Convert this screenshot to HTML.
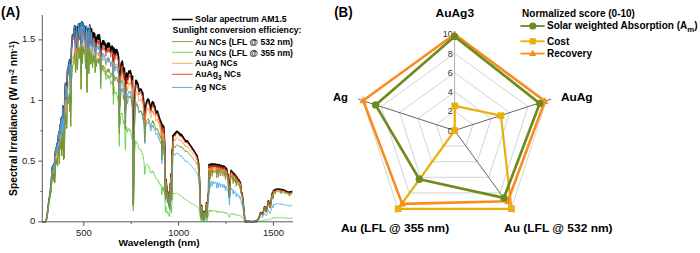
<!DOCTYPE html>
<html><head><meta charset="utf-8"><style>
html,body{margin:0;padding:0;background:#fff;width:700px;height:253px;overflow:hidden;}
svg{display:block;font-family:"Liberation Sans",sans-serif;}
</style></head><body>
<svg width="700" height="253" viewBox="0 0 700 253" font-family="Liberation Sans, sans-serif">
<rect width="700" height="253" fill="#fff"/>
<g><polyline points="42.09,221.80 42.28,221.80 42.47,221.80 42.66,221.80 42.85,221.80 43.04,221.80 43.23,221.80 43.42,221.80 43.60,221.80 43.79,221.80 43.98,221.80 44.17,221.80 44.36,221.80 44.55,221.80 44.74,221.80 44.93,221.80 45.12,221.80 45.31,221.80 45.50,221.80 45.69,221.32 45.88,220.83 46.07,220.35 46.26,219.86 46.45,219.37 46.64,218.16 46.83,216.96 47.02,215.75 47.21,214.55 47.40,213.33 47.59,211.71 47.78,210.10 47.97,208.47 48.16,206.84 48.34,205.24 48.53,203.66 48.72,202.10 48.91,201.19 49.10,199.06 49.29,197.95 49.48,197.40 49.67,196.02 49.86,193.53 50.05,191.79 50.24,192.29 50.43,191.43 50.62,188.06 50.81,186.29 51.00,187.23 51.19,184.68 51.38,179.98 51.57,176.74 51.76,176.21 51.95,174.96 52.14,168.72 52.33,166.91 52.52,166.50 52.71,166.28 52.90,167.55 53.08,170.00 53.27,168.19 53.46,164.99 53.65,167.37 53.84,173.34 54.03,171.70 54.22,164.97 54.41,162.79 54.60,167.42 54.79,174.86 54.98,168.02 55.17,154.96 55.36,151.64 55.55,150.32 55.74,149.27 55.93,151.67 56.12,152.58 56.31,147.75 56.50,146.79 56.69,149.15 56.88,146.72 57.07,143.81 57.26,143.15 57.45,150.84 57.64,153.08 57.82,140.10 58.01,138.64 58.20,136.87 58.39,135.15 58.58,137.78 58.77,137.69 58.96,131.88 59.15,137.32 59.34,149.64 59.53,144.93 59.72,130.14 59.91,126.27 60.10,124.71 60.29,124.67 60.48,129.86 60.67,130.06 60.86,121.39 61.05,118.29 61.24,118.56 61.43,121.74 61.62,134.75 61.81,138.38 62.00,126.19 62.19,116.52 62.38,130.37 62.56,129.69 62.75,106.35 62.94,106.14 63.13,114.00 63.32,132.68 63.51,142.96 63.70,134.45 63.89,118.23 64.08,133.21 64.27,140.75 64.46,128.98 64.65,108.09 64.84,93.29 65.03,90.31 65.22,85.79 65.41,83.20 65.60,83.33 65.79,90.24 65.98,97.37 66.17,89.93 66.36,86.15 66.55,97.30 66.74,103.00 66.93,95.55 67.12,82.29 67.30,73.37 67.49,69.95 67.68,70.97 67.87,72.88 68.06,72.05 68.25,68.53 68.44,65.88 68.63,64.78 68.82,63.67 69.01,62.56 69.20,61.84 69.39,60.53 69.58,59.86 69.77,76.25 69.96,83.66 70.15,64.06 70.34,72.88 70.53,92.59 70.72,102.93 70.91,90.73 71.10,72.69 71.29,54.20 71.48,48.09 71.67,46.15 71.86,43.53 72.04,40.72 72.23,37.95 72.42,35.40 72.61,34.48 72.80,34.73 72.99,35.01 73.18,35.32 73.37,35.67 73.56,36.05 73.75,34.16 73.94,32.23 74.13,30.31 74.32,28.39 74.51,26.47 74.70,25.84 74.89,30.59 75.08,35.35 75.27,40.10 75.46,44.85 75.65,49.60 75.84,44.66 76.03,39.21 76.22,33.75 76.41,28.28 76.60,26.68 76.78,32.85 76.97,39.03 77.16,45.21 77.35,48.10 77.54,43.68 77.73,39.26 77.92,34.84 78.11,30.41 78.30,25.97 78.49,24.07 78.68,26.55 78.87,29.02 79.06,31.49 79.25,33.96 79.44,36.43 79.63,32.82 79.82,28.43 80.01,24.03 80.20,23.46 80.39,26.34 80.58,29.23 80.77,32.12 80.96,53.30 81.15,71.19 81.34,53.06 81.52,29.20 81.71,21.82 81.90,27.96 82.09,34.10 82.28,40.25 82.47,41.62 82.66,32.83 82.85,25.36 83.04,23.02 83.23,25.21 83.42,26.51 83.61,28.79 83.80,31.08 83.99,30.34 84.18,28.15 84.37,25.96 84.56,27.62 84.75,27.29 84.94,31.34 85.13,35.38 85.32,39.43 85.51,43.47 85.70,47.50 85.89,44.47 86.08,37.29 86.26,30.13 86.45,26.28 86.64,33.47 86.83,56.96 87.02,74.82 87.21,57.53 87.40,36.06 87.59,33.14 87.78,30.21 87.97,28.95 88.16,28.89 88.35,29.68 88.54,32.03 88.73,43.05 88.92,53.40 89.11,42.41 89.30,35.73 89.49,29.95 89.68,25.12 89.87,26.37 90.06,29.19 90.25,32.59 90.44,35.99 90.63,39.36 90.82,42.73 91.00,41.77 91.19,37.05 91.38,32.36 91.57,28.85 91.76,31.76 91.95,35.62 92.14,39.46 92.33,43.00 92.52,46.53 92.71,43.71 92.90,39.47 93.09,35.24 93.28,34.95 93.47,32.66 93.66,35.36 93.85,38.06 94.04,40.38 94.23,38.11 94.42,35.85 94.61,33.60 94.80,36.08 94.99,44.12 95.18,52.14 95.37,51.04 95.56,46.56 95.74,42.10 95.93,37.65 96.12,45.12 96.31,43.42 96.50,41.84 96.69,40.40 96.88,39.12 97.07,37.82 97.26,36.72 97.45,35.82 97.64,35.12 97.83,35.14 98.02,35.55 98.21,38.74 98.40,36.01 98.59,39.22 98.78,36.76 98.97,34.61 99.16,35.60 99.35,35.00 99.54,35.66 99.73,38.75 99.92,38.72 100.11,41.11 100.30,43.65 100.48,56.30 100.67,67.14 100.86,57.35 101.05,49.20 101.24,47.72 101.43,46.33 101.62,45.10 101.81,44.01 102.00,43.05 102.19,42.39 102.38,44.64 102.57,43.57 102.76,40.92 102.95,41.44 103.14,41.04 103.33,40.96 103.52,41.20 103.71,40.78 103.90,44.70 104.09,43.80 104.28,44.06 104.47,43.14 104.66,42.46 104.85,43.28 105.04,44.26 105.22,45.38 105.41,46.64 105.60,48.02 105.79,49.51 105.98,51.09 106.17,48.32 106.36,47.30 106.55,46.37 106.74,45.52 106.93,44.79 107.12,44.11 107.31,43.56 107.50,43.47 107.69,45.64 107.88,47.56 108.07,44.79 108.26,42.85 108.45,43.16 108.64,45.62 108.83,46.53 109.02,44.67 109.21,43.39 109.40,43.86 109.59,45.25 109.78,46.57 109.96,46.17 110.15,47.27 110.34,48.47 110.53,49.75 110.72,52.06 110.91,50.76 111.10,49.57 111.29,48.52 111.48,47.62 111.67,48.14 111.86,47.52 112.05,45.96 112.24,46.15 112.43,47.41 112.62,48.50 112.81,47.47 113.00,50.45 113.19,62.97 113.38,72.49 113.57,63.11 113.76,50.74 113.95,48.08 114.14,48.97 114.33,50.04 114.52,51.26 114.70,52.62 114.89,54.10 115.08,54.56 115.27,53.12 115.46,51.80 115.65,50.63 115.84,49.64 116.03,50.87 116.22,49.77 116.41,49.65 116.60,49.56 116.79,50.63 116.98,49.88 117.17,53.64 117.36,53.39 117.55,51.84 117.74,51.91 117.93,55.15 118.12,54.07 118.31,55.44 118.50,56.98 118.69,58.67 118.88,76.84 119.07,101.26 119.26,115.66 119.44,105.60 119.63,86.91 119.82,74.97 120.01,71.01 120.20,82.44 120.39,78.10 120.58,73.97 120.77,70.14 120.96,66.69 121.15,63.67 121.34,64.42 121.53,62.40 121.72,63.23 121.91,62.15 122.10,61.80 122.29,61.08 122.48,62.13 122.67,63.82 122.86,65.97 123.05,68.55 123.24,71.51 123.43,74.76 123.62,71.51 123.81,70.19 124.00,69.04 124.18,68.08 124.37,68.64 124.56,71.93 124.75,81.70 124.94,94.07 125.13,105.41 125.32,110.99 125.51,108.80 125.70,98.72 125.89,87.79 126.08,79.49 126.27,74.52 126.46,72.98 126.65,72.95 126.84,74.05 127.03,75.35 127.22,76.82 127.41,78.44 127.60,79.68 127.79,77.79 127.98,76.04 128.17,74.57 128.36,73.31 128.55,72.45 128.74,71.40 128.92,71.05 129.11,72.01 129.30,72.33 129.49,73.14 129.68,72.79 129.87,71.94 130.06,72.56 130.25,70.46 130.44,72.54 130.63,71.77 130.82,72.84 131.01,74.11 131.20,75.60 131.39,77.27 131.58,79.12 131.77,81.11 131.96,83.21 132.15,83.57 132.34,82.19 132.53,76.16 132.72,111.30 132.91,149.14 133.10,176.45 133.29,203.72 133.48,189.53 133.66,175.83 133.85,161.41 134.04,145.44 134.23,128.60 134.42,112.67 134.61,101.92 134.80,98.20 134.99,94.52 135.18,90.89 135.37,87.34 135.56,84.91 135.75,80.58 135.94,80.29 136.13,80.74 136.32,81.04 136.51,81.47 136.70,80.91 136.89,81.39 137.08,82.17 137.27,84.18 137.46,82.85 137.65,82.90 137.84,83.71 138.03,84.67 138.22,85.78 138.40,87.04 138.59,88.43 138.78,89.95 138.97,91.56 139.16,91.13 139.35,90.67 139.54,90.25 139.73,89.88 139.92,89.56 140.11,89.29 140.30,89.09 140.49,89.16 140.68,89.94 140.87,90.30 141.06,90.03 141.25,89.20 141.44,89.77 141.63,90.99 141.82,91.99 142.01,91.72 142.20,92.01 142.39,94.13 142.58,92.28 142.77,92.88 142.96,94.68 143.14,99.26 143.33,97.94 143.52,99.79 143.71,101.68 143.90,102.66 144.09,105.77 144.28,111.11 144.47,118.17 144.66,124.70 144.85,126.84 145.04,123.99 145.23,117.57 145.42,110.63 145.61,107.43 145.80,106.03 145.99,104.70 146.18,103.72 146.37,102.83 146.56,102.03 146.75,101.82 146.94,100.72 147.13,100.43 147.32,100.30 147.51,100.39 147.70,99.65 147.88,99.15 148.07,99.18 148.26,99.13 148.45,99.24 148.64,101.51 148.83,100.10 149.02,100.72 149.21,101.72 149.40,102.22 149.59,103.12 149.78,104.10 149.97,105.18 150.16,106.35 150.35,107.11 150.54,107.96 150.73,108.86 150.92,109.83 151.11,108.24 151.30,107.01 151.49,105.86 151.68,104.79 151.87,103.83 152.06,102.98 152.25,102.35 152.44,101.63 152.62,103.83 152.81,101.84 153.00,103.07 153.19,102.36 153.38,105.03 153.57,102.79 153.76,103.54 153.95,105.70 154.14,106.25 154.33,106.49 154.52,106.22 154.71,105.83 154.90,106.76 155.09,107.80 155.28,108.94 155.47,110.17 155.66,111.65 155.85,113.18 156.04,111.69 156.23,111.49 156.42,111.33 156.61,111.21 156.80,111.14 156.99,111.11 157.18,111.15 157.36,112.41 157.55,112.37 157.74,111.64 157.93,113.70 158.12,114.90 158.31,114.12 158.50,113.98 158.69,116.90 158.88,117.60 159.07,116.24 159.26,116.96 159.45,119.60 159.64,119.32 159.83,118.86 160.02,120.34 160.21,120.18 160.40,122.60 160.59,120.74 160.78,121.54 160.97,121.77 161.16,122.26 161.35,122.39 161.54,131.16 161.73,139.76 161.92,147.98 162.10,140.11 162.29,132.42 162.48,124.55 162.67,124.76 162.86,131.00 163.05,137.02 163.24,131.69 163.43,126.04 163.62,126.55 163.81,126.82 164.00,130.59 164.19,134.19 164.38,138.04 164.57,141.76 164.76,145.40 164.95,149.03 165.14,168.91 165.33,188.79 165.52,194.81 165.71,186.96 165.90,179.11 166.09,180.80 166.28,182.50 166.47,184.26 166.66,186.09 166.84,187.91 167.03,192.51 167.22,197.10 167.41,197.86 167.60,194.78 167.79,191.70 167.98,193.88 168.17,196.07 168.36,198.34 168.55,200.70 168.74,203.06 168.93,201.25 169.12,199.44 169.31,200.09 169.50,203.21 169.69,206.33 169.88,196.89 170.07,187.45 170.26,183.55 170.45,185.18 170.64,186.81 170.83,180.34 171.02,173.88 171.21,175.53 171.40,185.29 171.58,195.05 171.77,176.74 171.96,158.42 172.15,149.26 172.34,151.87 172.53,154.29 172.72,145.35 172.91,135.64 173.10,135.74 173.29,135.69 173.48,135.15 173.67,134.61 173.86,134.54 174.05,134.45 174.24,134.36 174.43,134.13 174.62,133.57 174.81,133.44 175.00,134.60 175.19,134.14 175.38,132.87 175.57,132.68 175.76,133.04 175.95,133.06 176.14,132.26 176.32,131.54 176.51,131.49 176.70,131.34 176.89,131.42 177.08,131.70 177.27,131.43 177.46,131.48 177.65,131.61 177.84,131.82 178.03,132.08 178.22,132.50 178.41,132.40 178.60,132.40 178.79,132.83 178.98,133.04 179.17,133.58 179.36,134.15 179.55,133.88 179.74,133.69 179.93,133.89 180.12,134.40 180.31,135.06 180.50,134.53 180.69,134.17 180.88,134.42 181.06,135.15 181.25,135.33 181.44,134.65 181.63,134.65 181.82,135.01 182.01,135.54 182.20,135.77 182.39,135.80 182.58,136.24 182.77,137.44 182.96,137.53 183.15,137.03 183.34,137.15 183.53,137.71 183.72,138.34 183.91,138.56 184.10,138.50 184.29,138.86 184.48,139.63 184.67,140.01 184.86,139.81 185.05,139.67 185.24,140.80 185.43,141.24 185.62,140.64 185.80,140.81 185.99,140.89 186.18,141.37 186.37,141.05 186.56,140.72 186.75,141.06 186.94,141.52 187.13,140.90 187.32,140.88 187.51,141.20 187.70,141.59 187.89,142.04 188.08,142.17 188.27,142.45 188.46,142.53 188.65,142.94 188.84,143.53 189.03,143.74 189.22,143.67 189.41,143.98 189.60,144.35 189.79,144.63 189.98,145.12 190.17,145.10 190.36,145.19 190.54,145.72 190.73,145.90 190.92,146.14 191.11,146.58 191.30,146.78 191.49,146.89 191.68,147.15 191.87,147.60 192.06,147.83 192.25,148.69 192.44,148.93 192.63,148.65 192.82,148.94 193.01,149.20 193.20,149.61 193.39,150.10 193.58,150.14 193.77,150.52 193.96,150.57 194.15,151.05 194.34,151.30 194.53,151.74 194.72,151.94 194.91,152.27 195.10,152.38 195.28,152.75 195.47,153.24 195.66,153.49 195.85,153.64 196.04,154.10 196.23,154.26 196.42,155.10 196.61,155.78 196.80,155.44 196.99,155.50 197.18,155.88 197.37,157.21 197.56,157.91 197.75,158.98 197.94,160.24 198.13,161.29 198.32,162.40 198.51,163.52 198.70,164.48 198.89,167.97 199.08,171.48 199.27,174.97 199.46,178.55 199.65,181.97 199.84,185.46 200.02,192.72 200.21,199.99 200.40,206.34 200.59,211.78 200.78,217.23 200.97,216.58 201.16,215.94 201.35,213.59 201.54,209.51 201.73,205.44 201.92,211.18 202.11,216.93 202.30,218.81 202.49,216.81 202.68,214.81 202.87,216.22 203.06,217.64 203.25,217.05 203.44,214.46 203.63,211.87 203.82,215.28 204.01,218.70 204.20,219.78 204.39,218.53 204.58,217.28 204.76,214.76 204.95,212.24 205.14,211.05 205.33,211.17 205.52,211.30 205.71,210.52 205.90,209.74 206.09,208.04 206.28,205.41 206.47,202.79 206.66,209.95 206.85,217.12 207.04,217.27 207.23,210.41 207.42,203.55 207.61,201.76 207.80,199.98 207.99,197.87 208.18,195.43 208.37,193.00 208.56,193.00 208.75,178.86 208.94,164.63 209.13,168.41 209.32,166.47 209.50,164.53 209.69,165.13 209.88,168.07 210.07,171.02 210.26,173.50 210.45,170.43 210.64,167.37 210.83,164.29 211.02,163.97 211.21,163.78 211.40,163.79 211.59,164.44 211.78,166.99 211.97,169.54 212.16,170.61 212.35,168.10 212.54,165.59 212.73,163.91 212.92,164.13 213.11,165.42 213.30,166.71 213.49,166.67 213.68,165.42 213.87,164.17 214.06,164.19 214.24,164.02 214.43,164.71 214.62,165.67 214.81,166.15 215.00,165.23 215.19,164.30 215.38,164.16 215.57,164.15 215.76,164.35 215.95,164.40 216.14,164.25 216.33,166.45 216.52,169.52 216.71,172.59 216.90,170.68 217.09,167.65 217.28,164.62 217.47,164.38 217.66,164.51 217.85,164.48 218.04,166.05 218.23,168.83 218.42,171.61 218.61,169.93 218.80,167.23 218.98,164.73 219.17,164.70 219.36,164.75 219.55,165.02 219.74,164.99 219.93,166.31 220.12,168.28 220.31,170.24 220.50,168.63 220.69,166.78 220.88,165.45 221.07,165.33 221.26,165.39 221.45,165.51 221.64,165.67 221.83,166.95 222.02,168.59 222.21,170.22 222.40,169.72 222.59,168.21 222.78,166.70 222.97,166.08 223.16,166.03 223.35,166.15 223.54,166.32 223.72,166.29 223.91,168.79 224.10,171.01 224.29,168.37 224.48,166.43 224.67,166.54 224.86,166.55 225.05,168.40 225.24,171.46 225.43,174.51 225.62,173.40 225.81,170.72 226.00,168.08 226.19,168.20 226.38,168.53 226.57,168.75 226.76,169.07 226.95,169.86 227.14,172.22 227.33,174.56 227.52,174.20 227.71,174.03 227.90,174.15 228.09,176.12 228.28,178.09 228.46,182.27 228.65,186.43 228.84,185.99 229.03,187.48 229.22,192.80 229.41,195.82 229.60,193.91 229.79,187.27 229.98,182.75 230.17,181.80 230.36,178.21 230.55,174.42 230.74,172.45 230.93,171.42 231.12,170.28 231.31,170.66 231.50,170.81 231.69,171.98 231.88,172.65 232.07,171.90 232.26,171.62 232.45,171.76 232.64,172.39 232.83,175.37 233.02,178.31 233.20,179.38 233.39,176.83 233.58,174.31 233.77,173.23 233.96,173.41 234.15,174.38 234.34,176.62 234.53,176.95 234.72,175.13 234.91,174.55 235.10,174.76 235.29,174.93 235.48,175.22 235.67,175.42 235.86,176.10 236.05,179.25 236.24,182.38 236.43,181.78 236.62,179.17 236.81,177.02 237.00,177.39 237.19,177.57 237.38,177.86 237.57,178.19 237.76,178.42 237.94,179.05 238.13,180.84 238.32,181.59 238.51,180.33 238.70,179.69 238.89,180.06 239.08,180.17 239.27,180.46 239.46,181.19 239.65,183.01 239.84,184.71 240.03,183.41 240.22,182.13 240.41,183.00 240.60,184.32 240.79,185.53 240.98,186.70 241.17,189.47 241.36,192.45 241.55,193.07 241.74,192.48 241.93,192.79 242.12,193.94 242.31,195.17 242.50,196.34 242.68,197.59 242.87,199.59 243.06,201.57 243.25,203.51 243.44,205.54 243.63,207.51 243.82,209.47 244.01,211.45 244.20,213.45 244.39,215.41 244.58,217.40 244.77,219.38 244.96,221.69 245.15,221.67 245.34,221.08 245.53,221.23 245.72,221.52 245.91,221.78 246.10,221.34 246.29,221.69 246.48,221.24 246.67,221.51 246.86,221.24 247.05,221.70 247.24,221.45 247.42,221.71 247.61,221.34 247.80,221.46 247.99,221.64 248.18,221.32 248.37,221.45 248.56,221.61 248.75,221.41 248.94,221.61 249.13,221.41 249.32,221.65 249.51,221.43 249.70,221.76 249.89,221.53 250.08,221.68 250.27,221.64 250.46,221.58 250.65,221.77 250.84,221.71 251.03,221.75 251.22,221.57 251.41,221.71 251.60,221.62 251.79,221.67 251.98,221.70 252.16,221.47 252.35,221.59 252.54,221.54 252.73,221.51 252.92,221.45 253.11,221.65 253.30,221.74 253.49,221.55 253.68,221.68 253.87,221.78 254.06,221.31 254.25,221.43 254.44,221.52 254.63,221.68 254.82,221.31 255.01,221.42 255.20,221.64 255.39,221.12 255.58,221.12 255.77,221.10 255.96,221.14 256.15,221.32 256.34,221.49 256.53,221.20 256.72,221.61 256.90,220.92 257.09,220.53 257.28,220.18 257.47,219.87 257.66,219.60 257.85,219.36 258.04,219.17 258.23,219.01 258.42,218.89 258.61,218.58 258.80,218.11 258.99,217.62 259.18,217.11 259.37,216.56 259.56,215.99 259.75,215.38 259.94,214.75 260.13,214.22 260.32,213.67 260.51,213.11 260.70,212.66 260.89,212.74 261.08,212.85 261.27,212.98 261.46,213.14 261.64,213.32 261.83,213.53 262.02,213.76 262.21,214.01 262.40,214.29 262.59,214.60 262.78,214.03 262.97,213.32 263.16,212.58 263.35,211.82 263.54,211.03 263.73,210.22 263.92,209.38 264.11,208.52 264.30,207.64 264.49,206.74 264.68,206.73 264.87,207.22 265.06,207.74 265.25,208.29 265.44,208.87 265.63,209.47 265.82,210.11 266.01,210.77 266.20,211.47 266.38,211.31 266.57,210.38 266.76,209.43 266.95,208.45 267.14,207.44 267.33,206.41 267.52,205.36 267.71,204.29 267.90,203.18 268.09,202.06 268.28,200.91 268.47,200.84 268.66,201.50 268.85,202.18 269.04,202.90 269.23,203.65 269.42,204.43 269.61,205.23 269.80,206.07 269.99,206.93 270.18,207.09 270.37,205.97 270.56,204.82 270.75,203.65 270.94,202.37 271.12,201.05 271.31,199.69 271.50,198.31 271.69,196.89 271.88,195.43 272.07,193.95 272.26,193.08 272.45,193.82 272.64,194.59 272.83,195.39 273.02,196.23 273.21,197.11 273.40,190.50 273.59,192.46 273.78,191.58 273.97,190.69 274.16,190.10 274.35,190.01 274.54,189.97 274.73,189.79 274.92,190.15 275.11,190.85 275.30,191.56 275.49,191.40 275.68,190.51 275.86,189.61 276.05,189.11 276.24,189.00 276.43,189.05 276.62,189.14 276.81,189.34 277.00,189.54 277.19,189.39 277.38,189.24 277.57,189.09 277.76,188.96 277.95,189.04 278.14,189.10 278.33,189.11 278.52,189.13 278.71,189.08 278.90,189.38 279.09,189.68 279.28,189.72 279.47,189.47 279.66,189.21 279.85,189.34 280.04,189.27 280.23,189.32 280.42,189.36 280.60,189.87 280.79,190.83 280.98,191.39 281.17,190.47 281.36,189.56 281.55,189.53 281.74,189.59 281.93,189.49 282.12,189.61 282.31,189.87 282.50,190.17 282.69,190.47 282.88,190.58 283.07,190.33 283.26,190.08 283.45,189.90 283.64,189.93 283.83,189.99 284.02,190.08 284.21,190.17 284.40,190.28 284.59,190.34 284.78,190.67 284.97,191.25 285.16,191.84 285.34,191.65 285.53,191.25 285.72,190.97 285.91,191.00 286.10,191.13 286.29,191.26 286.48,191.29 286.67,191.40 286.86,191.56 287.05,191.83 287.24,192.11 287.43,192.21 287.62,192.12 287.81,192.03 288.00,192.08 288.19,192.16 288.38,192.15 288.57,192.05 288.76,192.07 288.95,191.98 289.14,192.65 289.33,193.53 289.52,194.32 289.71,193.38 289.90,192.43 290.08,191.85 290.27,191.80 290.46,191.72 290.65,191.84 290.84,192.05 291.03,192.26 291.22,192.45 291.41,192.18 291.60,191.91 291.79,191.64 291.98,191.51 292.17,191.44 292.36,191.44" fill="none" stroke="#000" stroke-width="1.6" stroke-linejoin="round"/>
<polyline points="42.09,221.80 42.28,221.80 42.47,221.80 42.66,221.80 42.85,221.80 43.04,221.80 43.23,221.80 43.42,221.80 43.60,221.80 43.79,221.80 43.98,221.80 44.17,221.80 44.36,221.80 44.55,221.80 44.74,221.80 44.93,221.80 45.12,221.80 45.31,221.80 45.50,221.80 45.69,221.33 45.88,220.85 46.07,220.37 46.26,219.90 46.45,219.42 46.64,218.23 46.83,217.05 47.02,215.87 47.21,214.69 47.40,213.50 47.59,211.91 47.78,210.33 47.97,208.74 48.16,207.14 48.34,205.57 48.53,204.02 48.72,202.50 48.91,201.61 49.10,199.51 49.29,198.43 49.48,197.89 49.67,196.54 49.86,194.10 50.05,192.39 50.24,192.88 50.43,192.04 50.62,188.74 50.81,187.00 51.00,187.92 51.19,185.43 51.38,180.81 51.57,177.64 51.76,177.12 51.95,175.90 52.14,169.78 52.33,168.01 52.52,167.61 52.71,167.39 52.90,168.64 53.08,171.03 53.27,169.26 53.46,166.13 53.65,168.45 53.84,174.31 54.03,172.70 54.22,166.11 54.41,163.97 54.60,168.51 54.79,175.80 54.98,169.10 55.17,156.29 55.36,153.04 55.55,151.75 55.74,150.72 55.93,153.07 56.12,153.97 56.31,149.23 56.50,148.29 56.69,150.61 56.88,148.22 57.07,145.37 57.26,144.72 57.45,152.26 57.64,154.46 57.82,141.74 58.01,140.30 58.20,138.56 58.39,136.88 58.58,139.46 58.77,139.37 58.96,133.68 59.15,139.01 59.34,151.08 59.53,146.47 59.72,131.97 59.91,128.18 60.10,126.65 60.29,126.61 60.48,131.70 60.67,131.90 60.86,123.40 61.05,120.36 61.24,120.63 61.43,123.74 61.62,136.49 61.81,140.05 62.00,128.10 62.19,118.62 62.38,132.20 62.56,131.53 62.75,108.66 62.94,108.46 63.13,116.16 63.32,134.46 63.51,144.53 63.70,136.19 63.89,120.30 64.08,134.98 64.27,142.37 64.46,130.83 64.65,110.36 64.84,95.86 65.03,92.94 65.22,88.51 65.41,85.97 65.60,86.10 65.79,92.87 65.98,99.86 66.17,92.57 66.36,88.86 66.55,99.79 66.74,105.37 66.93,98.07 67.12,85.08 67.30,76.34 67.49,72.98 67.68,73.99 67.87,75.86 68.06,75.04 68.25,71.60 68.44,69.00 68.63,67.92 68.82,66.83 69.01,65.75 69.20,65.04 69.39,63.76 69.58,63.10 69.77,79.16 69.96,86.42 70.15,67.22 70.34,75.86 70.53,95.17 70.72,105.30 70.91,93.35 71.10,75.67 71.29,57.55 71.48,51.56 71.67,49.66 71.86,47.10 72.04,44.35 72.23,41.62 72.42,39.13 72.61,38.23 72.80,38.47 72.99,38.74 73.18,39.05 73.37,39.39 73.56,39.76 73.75,37.91 73.94,36.02 74.13,34.14 74.32,32.25 74.51,30.37 74.70,29.76 74.89,34.42 75.08,39.08 75.27,43.73 75.46,48.39 75.65,53.04 75.84,48.20 76.03,42.86 76.22,37.51 76.41,32.15 76.60,30.59 76.78,36.63 76.97,42.68 77.16,48.74 77.35,51.57 77.54,47.25 77.73,42.91 77.92,38.58 78.11,34.23 78.30,29.88 78.49,28.02 78.68,30.46 78.87,32.87 79.06,35.29 79.25,37.71 79.44,40.14 79.63,36.60 79.82,32.30 80.01,27.99 80.20,27.42 80.39,30.25 80.58,33.08 80.77,35.91 80.96,56.67 81.15,74.21 81.34,56.43 81.52,33.05 81.71,25.82 81.90,31.83 82.09,37.85 82.28,43.88 82.47,45.22 82.66,36.61 82.85,29.29 83.04,27.00 83.23,29.14 83.42,30.41 83.61,32.65 83.80,34.89 83.99,34.17 84.18,32.02 84.37,29.88 84.56,31.50 84.75,31.18 84.94,35.15 85.13,39.11 85.32,43.07 85.51,47.03 85.70,50.99 85.89,48.02 86.08,40.98 86.26,33.96 86.45,30.19 86.64,37.23 86.83,60.26 87.02,77.76 87.21,60.81 87.40,39.78 87.59,36.91 87.78,34.04 87.97,32.81 88.16,32.75 88.35,33.52 88.54,35.82 88.73,46.63 88.92,56.76 89.11,46.00 89.30,39.45 89.49,33.79 89.68,29.09 89.87,30.36 90.06,33.16 90.25,36.53 90.44,39.89 90.63,43.23 90.82,46.56 91.00,45.66 91.19,41.08 91.38,36.53 91.57,33.13 91.76,36.01 91.95,39.83 92.14,43.62 92.33,47.11 92.52,50.59 92.71,47.88 92.90,43.77 93.09,39.68 93.28,39.43 93.47,37.23 93.66,39.91 93.85,42.58 94.04,44.87 94.23,42.70 94.42,40.54 94.61,38.38 94.80,40.83 94.99,48.70 95.18,56.55 95.37,55.51 95.56,51.19 95.74,46.88 95.93,42.58 96.12,49.89 96.31,48.27 96.50,46.77 96.69,45.40 96.88,44.20 97.07,42.98 97.26,41.94 97.45,41.10 97.64,40.46 97.83,40.52 98.02,40.96 98.21,44.08 98.40,41.47 98.59,44.62 98.78,42.28 98.97,40.23 99.16,41.19 99.35,40.61 99.54,41.25 99.73,44.24 99.92,44.22 100.11,46.53 100.30,49.00 100.48,61.26 100.67,71.78 100.86,62.28 101.05,54.37 101.24,52.94 101.43,51.60 101.62,50.41 101.81,49.34 102.00,48.41 102.19,47.78 102.38,49.95 102.57,48.92 102.76,46.35 102.95,46.85 103.14,46.46 103.33,46.39 103.52,46.62 103.71,46.21 103.90,50.01 104.09,49.14 104.28,49.39 104.47,48.50 104.66,47.84 104.85,48.64 105.04,49.58 105.22,50.67 105.41,51.89 105.60,53.23 105.79,54.68 105.98,56.21 106.17,53.52 106.36,52.54 106.55,51.63 106.74,50.81 106.93,50.10 107.12,49.44 107.31,48.91 107.50,48.82 107.69,50.92 107.88,52.79 108.07,50.10 108.26,48.22 108.45,48.52 108.64,50.90 108.83,51.79 109.02,49.98 109.21,48.75 109.40,49.20 109.59,50.55 109.78,51.83 109.96,51.44 110.15,52.51 110.34,53.67 110.53,54.91 110.72,57.15 110.91,55.89 111.10,54.74 111.29,53.72 111.48,52.85 111.67,53.35 111.86,52.75 112.05,51.24 112.24,51.42 112.43,52.64 112.62,53.70 112.81,52.70 113.00,55.59 113.19,67.73 113.38,76.97 113.57,67.87 113.76,55.88 113.95,53.29 114.14,54.16 114.33,55.19 114.52,56.38 114.70,57.70 114.89,59.13 115.08,59.58 115.27,58.18 115.46,56.90 115.65,55.76 115.84,54.80 116.03,56.00 116.22,54.93 116.41,54.81 116.60,54.73 116.79,55.76 116.98,55.04 117.17,58.69 117.36,58.44 117.55,56.94 117.74,57.01 117.93,60.15 118.12,59.11 118.31,60.43 118.50,61.93 118.69,63.56 118.88,81.19 119.07,104.88 119.26,118.85 119.44,109.09 119.63,90.96 119.82,79.37 120.01,75.53 120.20,86.63 120.39,82.41 120.58,78.40 120.77,74.69 120.96,71.35 121.15,68.41 121.34,69.14 121.53,67.19 121.72,67.99 121.91,66.93 122.10,66.59 122.29,65.89 122.48,66.90 122.67,68.53 122.86,70.61 123.05,73.11 123.24,75.98 123.43,79.13 123.62,75.97 123.81,74.68 124.00,73.56 124.18,72.63 124.37,73.17 124.56,76.36 124.75,85.83 124.94,97.83 125.13,108.84 125.32,114.25 125.51,112.12 125.70,102.33 125.89,91.71 126.08,83.65 126.27,78.82 126.46,77.32 126.65,77.28 126.84,78.35 127.03,79.60 127.22,81.03 127.41,82.60 127.60,83.80 127.79,81.96 127.98,80.25 128.17,78.82 128.36,77.59 128.55,76.75 128.74,75.72 128.92,75.38 129.11,76.31 129.30,76.61 129.49,77.39 129.68,77.05 129.87,76.22 130.06,76.81 130.25,74.77 130.44,76.79 130.63,76.03 130.82,77.07 131.01,78.30 131.20,79.74 131.39,81.36 131.58,83.15 131.77,85.08 131.96,87.12 132.15,87.47 132.34,86.12 132.53,80.26 132.72,114.40 132.91,151.18 133.10,177.72 133.29,204.23 133.48,190.43 133.66,177.11 133.85,163.10 134.04,147.56 134.23,131.19 134.42,115.70 134.61,105.25 134.80,101.63 134.99,98.04 135.18,94.50 135.37,91.05 135.56,88.69 135.75,84.46 135.94,84.18 136.13,84.61 136.32,84.90 136.51,85.32 136.70,84.76 136.89,85.23 137.08,85.99 137.27,87.93 137.46,86.63 137.65,86.68 137.84,87.46 138.03,88.39 138.22,89.47 138.40,90.69 138.59,92.04 138.78,93.51 138.97,95.08 139.16,94.65 139.35,94.20 139.54,93.79 139.73,93.42 139.92,93.10 140.11,92.84 140.30,92.64 140.49,92.70 140.68,93.45 140.87,93.80 141.06,93.53 141.25,92.72 141.44,93.27 141.63,94.46 141.82,95.42 142.01,95.16 142.20,95.44 142.39,97.50 142.58,95.69 142.77,96.27 142.96,98.02 143.14,102.48 143.33,101.19 143.52,102.98 143.71,104.82 143.90,105.77 144.09,108.80 144.28,113.99 144.47,120.86 144.66,127.22 144.85,129.30 145.04,126.52 145.23,120.26 145.42,113.50 145.61,110.38 145.80,109.01 145.99,107.71 146.18,106.75 146.37,105.88 146.56,105.10 146.75,104.89 146.94,103.82 147.13,103.53 147.32,103.40 147.51,103.48 147.70,102.76 147.88,102.27 148.07,102.29 148.26,102.24 148.45,102.34 148.64,104.55 148.83,103.17 149.02,103.77 149.21,104.75 149.40,105.23 149.59,106.10 149.78,107.06 149.97,108.10 150.16,109.23 150.35,109.98 150.54,110.80 150.73,111.68 150.92,112.61 151.11,111.06 151.30,109.86 151.49,108.73 151.68,107.69 151.87,106.75 152.06,105.91 152.25,105.30 152.44,104.59 152.62,106.73 152.81,104.78 153.00,105.98 153.19,105.28 153.38,107.88 153.57,105.70 153.76,106.42 153.95,108.52 154.14,109.06 154.33,109.29 154.52,109.02 154.71,108.63 154.90,109.54 155.09,110.55 155.28,111.66 155.47,112.86 155.66,114.30 155.85,115.79 156.04,114.33 156.23,114.13 156.42,113.97 156.61,113.85 156.80,113.77 156.99,113.75 157.18,113.77 157.36,115.01 157.55,114.97 157.74,114.25 157.93,116.25 158.12,117.42 158.31,116.66 158.50,116.51 158.69,119.36 158.88,120.04 159.07,118.72 159.26,119.42 159.45,121.99 159.64,121.71 159.83,121.26 160.02,122.70 160.21,122.54 160.40,124.90 160.59,123.08 160.78,123.86 160.97,124.09 161.16,124.55 161.35,124.68 161.54,133.24 161.73,141.65 161.92,149.68 162.10,141.98 162.29,134.46 162.48,126.77 162.67,126.97 162.86,133.07 163.05,138.95 163.24,133.74 163.43,128.22 163.62,128.70 163.81,128.97 164.00,132.65 164.19,136.17 164.38,139.93 164.57,143.56 164.76,147.11 164.95,150.66 165.14,170.09 165.33,189.53 165.52,195.41 165.71,187.73 165.90,180.05 166.09,181.71 166.28,183.37 166.47,185.09 166.66,186.88 166.84,188.66 167.03,193.15 167.22,197.65 167.41,198.39 167.60,195.37 167.79,192.36 167.98,194.49 168.17,196.63 168.36,198.85 168.55,201.16 168.74,203.47 168.93,201.69 169.12,199.92 169.31,200.56 169.50,203.61 169.69,206.66 169.88,197.43 170.07,188.19 170.26,184.37 170.45,185.96 170.64,187.55 170.83,181.23 171.02,174.90 171.21,176.51 171.40,186.07 171.58,195.62 171.77,177.69 171.96,159.76 172.15,150.79 172.34,153.35 172.53,155.71 172.72,146.96 172.91,137.45 173.10,137.54 173.29,137.49 173.48,136.96 173.67,136.43 173.86,136.35 174.05,136.27 174.24,136.18 174.43,135.95 174.62,135.40 174.81,135.27 175.00,136.40 175.19,135.94 175.38,134.70 175.57,134.51 175.76,134.86 175.95,134.87 176.14,134.09 176.32,133.38 176.51,133.33 176.70,133.18 176.89,133.25 177.08,133.53 177.27,133.26 177.46,133.31 177.65,133.43 177.84,133.63 178.03,133.89 178.22,134.29 178.41,134.19 178.60,134.19 178.79,134.61 178.98,134.81 179.17,135.34 179.36,135.90 179.55,135.63 179.74,135.46 179.93,135.64 180.12,136.15 180.31,136.79 180.50,136.27 180.69,135.93 180.88,136.17 181.06,136.89 181.25,137.06 181.44,136.40 181.63,136.39 181.82,136.75 182.01,137.27 182.20,137.49 182.39,137.52 182.58,137.95 182.77,139.13 182.96,139.22 183.15,138.73 183.34,138.84 183.53,139.39 183.72,140.01 183.91,140.22 184.10,140.17 184.29,140.52 184.48,141.27 184.67,141.65 184.86,141.45 185.05,141.31 185.24,142.42 185.43,142.85 185.62,142.27 185.80,142.43 185.99,142.51 186.18,142.97 186.37,142.66 186.56,142.35 186.75,142.67 186.94,143.12 187.13,142.52 187.32,142.50 187.51,142.81 187.70,143.19 187.89,143.63 188.08,143.76 188.27,144.04 188.46,144.11 188.65,144.51 188.84,145.09 189.03,145.30 189.22,145.23 189.41,145.53 189.60,145.90 189.79,146.17 189.98,146.65 190.17,146.63 190.36,146.72 190.54,147.24 190.73,147.42 190.92,147.66 191.11,148.08 191.30,148.28 191.49,148.39 191.68,148.64 191.87,149.09 192.06,149.31 192.25,150.15 192.44,150.39 192.63,150.12 192.82,150.40 193.01,150.65 193.20,151.06 193.39,151.53 193.58,151.57 193.77,151.94 193.96,151.99 194.15,152.46 194.34,152.71 194.53,153.14 194.72,153.34 194.91,153.66 195.10,153.77 195.28,154.13 195.47,154.61 195.66,154.85 195.85,155.00 196.04,155.45 196.23,155.61 196.42,156.44 196.61,157.10 196.80,156.76 196.99,156.83 197.18,157.20 197.37,158.50 197.56,159.19 197.75,160.24 197.94,161.48 198.13,162.50 198.32,163.59 198.51,164.69 198.70,165.62 198.89,169.05 199.08,172.48 199.27,175.91 199.46,179.41 199.65,182.77 199.84,186.18 200.02,193.30 200.21,200.42 200.40,206.65 200.59,211.98 200.78,217.32 200.97,216.69 201.16,216.06 201.35,213.75 201.54,209.76 201.73,205.76 201.92,211.40 202.11,217.03 202.30,218.87 202.49,216.91 202.68,214.95 202.87,216.34 203.06,217.72 203.25,217.14 203.44,214.60 203.63,212.07 203.82,215.41 204.01,218.76 204.20,219.82 204.39,218.60 204.58,217.37 204.76,214.90 204.95,212.43 205.14,211.26 205.33,211.39 205.52,211.51 205.71,210.74 205.90,209.98 206.09,208.31 206.28,205.74 206.47,203.17 206.66,210.19 206.85,217.21 207.04,217.36 207.23,210.64 207.42,203.92 207.61,202.17 207.80,200.41 207.99,198.35 208.18,195.96 208.37,193.58 208.56,193.58 208.75,179.72 208.94,165.77 209.13,169.47 209.32,167.57 209.50,165.67 209.69,166.26 209.88,169.14 210.07,172.03 210.26,174.46 210.45,171.46 210.64,168.46 210.83,165.44 211.02,165.12 211.21,164.94 211.40,164.95 211.59,165.59 211.78,168.09 211.97,170.59 212.16,171.63 212.35,169.17 212.54,166.71 212.73,165.07 212.92,165.29 213.11,166.55 213.30,167.81 213.49,167.78 213.68,166.55 213.87,165.32 214.06,165.34 214.24,165.17 214.43,165.85 214.62,166.79 214.81,167.27 215.00,166.36 215.19,165.45 215.38,165.31 215.57,165.30 215.76,165.50 215.95,165.55 216.14,165.40 216.33,167.56 216.52,170.56 216.71,173.57 216.90,171.70 217.09,168.74 217.28,165.77 217.47,165.52 217.66,165.66 217.85,165.63 218.04,167.16 218.23,169.89 218.42,172.61 218.61,170.97 218.80,168.33 218.98,165.87 219.17,165.84 219.36,165.89 219.55,166.16 219.74,166.13 219.93,167.42 220.12,169.35 220.31,171.28 220.50,169.69 220.69,167.88 220.88,166.58 221.07,166.45 221.26,166.52 221.45,166.64 221.64,166.79 221.83,168.05 222.02,169.65 222.21,171.25 222.40,170.76 222.59,169.28 222.78,167.80 222.97,167.19 223.16,167.14 223.35,167.26 223.54,167.43 223.72,167.40 223.91,169.85 224.10,172.02 224.29,169.44 224.48,167.54 224.67,167.64 224.86,167.65 225.05,169.47 225.24,172.46 225.43,175.46 225.62,174.37 225.81,171.74 226.00,169.15 226.19,169.28 226.38,169.60 226.57,169.81 226.76,170.12 226.95,170.89 227.14,173.21 227.33,175.51 227.52,175.15 227.71,174.98 227.90,175.11 228.09,177.03 228.28,178.97 228.46,183.06 228.65,187.14 228.84,186.71 229.03,188.17 229.22,193.38 229.41,196.34 229.60,194.47 229.79,187.96 229.98,183.53 230.17,182.60 230.36,179.09 230.55,175.37 230.74,173.43 230.93,172.43 231.12,171.31 231.31,171.68 231.50,171.83 231.69,172.98 231.88,173.63 232.07,172.90 232.26,172.62 232.45,172.77 232.64,173.38 232.83,176.29 233.02,179.18 233.20,180.23 233.39,177.73 233.58,175.26 233.77,174.20 233.96,174.38 234.15,175.33 234.34,177.52 234.53,177.85 234.72,176.07 234.91,175.49 235.10,175.70 235.29,175.86 235.48,176.16 235.67,176.35 235.86,177.01 236.05,180.10 236.24,183.17 236.43,182.58 236.62,180.02 236.81,177.92 237.00,178.28 237.19,178.46 237.38,178.74 237.57,179.06 237.76,179.29 237.94,179.91 238.13,181.66 238.32,182.39 238.51,181.16 238.70,180.53 238.89,180.90 239.08,181.00 239.27,181.29 239.46,182.00 239.65,183.79 239.84,185.45 240.03,184.18 240.22,182.92 240.41,183.78 240.60,185.07 240.79,186.25 240.98,187.40 241.17,190.11 241.36,193.04 241.55,193.65 241.74,193.07 241.93,193.37 242.12,194.50 242.31,195.70 242.50,196.85 242.68,198.08 242.87,200.04 243.06,201.97 243.25,203.88 243.44,205.87 243.63,207.79 243.82,209.72 244.01,211.66 244.20,213.61 244.39,215.54 244.58,217.49 244.77,219.43 244.96,221.69 245.15,221.68 245.34,221.10 245.53,221.24 245.72,221.52 245.91,221.78 246.10,221.35 246.29,221.69 246.48,221.25 246.67,221.52 246.86,221.25 247.05,221.70 247.24,221.46 247.42,221.71 247.61,221.35 247.80,221.47 247.99,221.64 248.18,221.33 248.37,221.45 248.56,221.61 248.75,221.42 248.94,221.61 249.13,221.42 249.32,221.66 249.51,221.44 249.70,221.76 249.89,221.54 250.08,221.68 250.27,221.64 250.46,221.59 250.65,221.77 250.84,221.71 251.03,221.75 251.22,221.57 251.41,221.71 251.60,221.63 251.79,221.67 251.98,221.70 252.16,221.48 252.35,221.60 252.54,221.54 252.73,221.51 252.92,221.46 253.11,221.66 253.30,221.74 253.49,221.56 253.68,221.69 253.87,221.78 254.06,221.32 254.25,221.43 254.44,221.53 254.63,221.68 254.82,221.32 255.01,221.42 255.20,221.64 255.39,221.14 255.58,221.13 255.77,221.12 255.96,221.16 256.15,221.33 256.34,221.49 256.53,221.21 256.72,221.61 256.90,220.93 257.09,220.56 257.28,220.21 257.47,219.91 257.66,219.64 257.85,219.41 258.04,219.22 258.23,219.06 258.42,218.95 258.61,218.64 258.80,218.19 258.99,217.71 259.18,217.20 259.37,216.66 259.56,216.10 259.75,215.51 259.94,214.89 260.13,214.37 260.32,213.84 260.51,213.28 260.70,212.84 260.89,212.92 261.08,213.03 261.27,213.16 261.46,213.31 261.64,213.49 261.83,213.69 262.02,213.92 262.21,214.17 262.40,214.44 262.59,214.74 262.78,214.18 262.97,213.49 263.16,212.76 263.35,212.02 263.54,211.25 263.73,210.45 263.92,209.63 264.11,208.79 264.30,207.93 264.49,207.04 264.68,207.03 264.87,207.51 265.06,208.02 265.25,208.56 265.44,209.13 265.63,209.72 265.82,210.34 266.01,210.99 266.20,211.67 266.38,211.52 266.57,210.61 266.76,209.67 266.95,208.71 267.14,207.73 267.33,206.72 267.52,205.69 267.71,204.64 267.90,203.56 268.09,202.45 268.28,201.33 268.47,201.26 268.66,201.90 268.85,202.58 269.04,203.28 269.23,204.01 269.42,204.77 269.61,205.56 269.80,206.38 269.99,207.23 270.18,207.38 270.37,206.29 270.56,205.16 270.75,204.01 270.94,202.75 271.12,201.46 271.31,200.14 271.50,198.78 271.69,197.39 271.88,195.96 272.07,194.51 272.26,193.66 272.45,194.38 272.64,195.13 272.83,195.92 273.02,196.75 273.21,197.61 273.40,191.13 273.59,193.05 273.78,192.18 273.97,191.32 274.16,190.74 274.35,190.64 274.54,190.60 274.73,190.43 274.92,190.78 275.11,191.47 275.30,192.16 275.49,192.01 275.68,191.13 275.86,190.26 276.05,189.77 276.24,189.65 276.43,189.71 276.62,189.79 276.81,189.99 277.00,190.19 277.19,190.04 277.38,189.89 277.57,189.74 277.76,189.62 277.95,189.70 278.14,189.75 278.33,189.76 278.52,189.78 278.71,189.73 278.90,190.03 279.09,190.32 279.28,190.36 279.47,190.12 279.66,189.87 279.85,189.99 280.04,189.92 280.23,189.97 280.42,190.01 280.60,190.51 280.79,191.45 280.98,192.00 281.17,191.10 281.36,190.20 281.55,190.17 281.74,190.23 281.93,190.13 282.12,190.25 282.31,190.51 282.50,190.81 282.69,191.10 282.88,191.20 283.07,190.96 283.26,190.71 283.45,190.54 283.64,190.57 283.83,190.63 284.02,190.72 284.21,190.80 284.40,190.91 284.59,190.97 284.78,191.29 284.97,191.86 285.16,192.44 285.34,192.26 285.53,191.86 285.72,191.59 285.91,191.62 286.10,191.74 286.29,191.87 286.48,191.90 286.67,192.01 286.86,192.16 287.05,192.43 287.24,192.70 287.43,192.80 287.62,192.71 287.81,192.63 288.00,192.68 288.19,192.75 288.38,192.74 288.57,192.65 288.76,192.66 288.95,192.58 289.14,193.24 289.33,194.10 289.52,194.87 289.71,193.95 289.90,193.02 290.08,192.45 290.27,192.40 290.46,192.32 290.65,192.44 290.84,192.64 291.03,192.85 291.22,193.04 291.41,192.78 291.60,192.51 291.79,192.24 291.98,192.11 292.17,192.05 292.36,192.05" fill="none" stroke="#e83a1c" stroke-width="0.9" stroke-opacity="0.9" stroke-linejoin="round"/>
<polyline points="42.09,221.80 42.28,221.80 42.47,221.80 42.66,221.80 42.85,221.80 43.04,221.80 43.23,221.80 43.42,221.80 43.60,221.80 43.79,221.80 43.98,221.80 44.17,221.80 44.36,221.80 44.55,221.80 44.74,221.80 44.93,221.80 45.12,221.80 45.31,221.80 45.50,221.80 45.69,221.36 45.88,220.91 46.07,220.46 46.26,220.02 46.45,219.57 46.64,218.45 46.83,217.35 47.02,216.23 47.21,215.13 47.40,214.01 47.59,212.52 47.78,211.03 47.97,209.54 48.16,208.04 48.34,206.56 48.53,205.11 48.72,203.68 48.91,202.84 49.10,200.88 49.29,199.86 49.48,199.36 49.67,198.08 49.86,195.80 50.05,194.19 50.24,194.65 50.43,193.86 50.62,190.76 50.81,189.13 51.00,190.00 51.19,187.65 51.38,183.32 51.57,180.35 51.76,179.88 51.95,178.76 52.14,173.06 52.33,171.43 52.52,171.08 52.71,170.91 52.90,172.11 53.08,174.38 53.27,172.75 53.46,169.86 53.65,172.06 53.84,177.55 54.03,176.08 54.22,169.97 54.41,168.02 54.60,172.27 54.79,179.07 54.98,172.88 55.17,161.03 55.36,158.05 55.55,156.90 55.74,155.99 55.93,158.20 56.12,159.07 56.31,154.73 56.50,153.91 56.69,156.09 56.88,153.93 57.07,151.34 57.26,150.79 57.45,157.77 57.64,159.84 57.82,148.18 58.01,146.91 58.20,145.36 58.39,143.86 58.58,146.28 58.77,146.24 58.96,141.08 59.15,146.01 59.34,157.10 59.53,152.92 59.72,139.72 59.91,136.31 60.10,134.97 60.29,134.99 60.48,139.69 60.67,139.92 60.86,132.23 61.05,129.53 61.24,129.83 61.43,132.71 61.62,144.35 61.81,147.63 62.00,136.84 62.19,128.31 62.38,140.66 62.56,140.11 62.75,119.48 62.94,119.36 63.13,126.39 63.32,142.97 63.51,152.10 63.70,144.63 63.89,130.36 64.08,143.64 64.27,150.33 64.46,140.01 64.65,121.67 64.84,108.71 65.03,106.09 65.22,102.11 65.41,99.83 65.60,99.95 65.79,106.03 65.98,112.30 66.17,105.76 66.36,102.43 66.55,112.24 66.74,117.25 66.93,110.70 67.12,99.03 67.30,91.18 67.49,88.17 67.68,89.07 67.87,90.75 68.06,90.02 68.25,86.92 68.44,84.59 68.63,83.62 68.82,82.65 69.01,81.67 69.20,81.04 69.39,79.89 69.58,79.29 69.77,93.72 69.96,100.24 70.15,82.99 70.34,90.75 70.53,108.09 70.72,117.19 70.91,106.46 71.10,90.58 71.29,74.31 71.48,68.93 71.67,67.23 71.86,64.92 72.04,62.45 72.23,60.01 72.42,57.77 72.61,56.90 72.80,57.05 72.99,57.23 73.18,57.45 73.37,57.69 73.56,57.97 73.75,56.24 73.94,54.47 74.13,52.71 74.32,50.95 74.51,49.19 74.70,48.57 74.89,52.71 75.08,56.85 75.27,61.00 75.46,65.14 75.65,69.29 75.84,64.85 76.03,59.96 76.22,55.06 76.41,50.15 76.60,48.67 76.78,54.08 76.97,59.50 77.16,64.93 77.35,67.44 77.54,63.46 77.73,59.46 77.92,55.47 78.11,51.46 78.30,47.44 78.49,45.69 78.68,47.84 78.87,49.97 79.06,52.10 79.25,54.24 79.44,56.39 79.63,53.10 79.82,49.12 80.01,45.13 80.20,44.55 80.39,47.06 80.58,49.58 80.77,52.10 80.96,70.99 81.15,86.96 81.34,70.66 81.52,49.23 81.71,42.55 81.90,47.99 82.09,53.43 82.28,58.89 82.47,60.06 82.66,52.11 82.85,45.33 83.04,43.16 83.23,45.06 83.42,46.17 83.61,48.16 83.80,50.15 83.99,49.47 84.18,47.48 84.37,45.49 84.56,46.96 84.75,46.64 84.94,50.27 85.13,53.90 85.32,57.52 85.51,61.14 85.70,64.76 85.89,62.01 86.08,55.52 86.26,49.05 86.45,45.56 86.64,52.02 86.83,73.18 87.02,89.27 87.21,73.66 87.40,54.28 87.59,51.63 87.78,48.97 87.97,47.81 88.16,47.74 88.35,48.43 88.54,50.53 88.73,60.46 88.92,69.78 89.11,59.85 89.30,53.80 89.49,48.56 89.68,44.18 89.87,45.29 90.06,47.81 90.25,50.87 90.44,53.92 90.63,56.95 90.82,59.97 91.00,59.09 91.19,54.80 91.38,50.54 91.57,47.35 91.76,49.96 91.95,53.44 92.14,56.89 92.33,60.07 92.52,63.25 92.71,60.68 92.90,56.83 93.09,52.98 93.28,52.70 93.47,50.61 93.66,53.04 93.85,55.46 94.04,57.54 94.23,55.47 94.42,53.40 94.61,51.35 94.80,53.57 94.99,60.84 95.18,68.09 95.37,67.07 95.56,63.00 95.74,58.94 95.93,54.89 96.12,61.64 96.31,60.08 96.50,58.63 96.69,57.30 96.88,56.13 97.07,54.93 97.26,53.92 97.45,53.08 97.64,52.43 97.83,52.43 98.02,52.78 98.21,55.65 98.40,53.16 98.59,56.05 98.78,53.81 98.97,51.83 99.16,52.72 99.35,52.15 99.54,52.73 99.73,55.52 99.92,55.47 100.11,57.62 100.30,59.92 100.48,71.39 100.67,81.23 100.86,72.31 101.05,64.89 101.24,63.52 101.43,62.25 101.62,61.11 101.81,60.10 102.00,59.21 102.19,58.60 102.38,60.62 102.57,59.63 102.76,57.20 102.95,57.66 103.14,57.27 103.33,57.18 103.52,57.39 103.71,56.98 103.90,60.53 104.09,59.70 104.28,59.92 104.47,59.05 104.66,58.42 104.85,59.15 105.04,60.02 105.22,61.03 105.41,62.15 105.60,63.40 105.79,64.74 105.98,66.16 106.17,63.62 106.36,62.68 106.55,61.80 106.74,61.02 106.93,60.33 107.12,59.70 107.31,59.17 107.50,59.07 107.69,61.03 107.88,62.77 108.07,60.22 108.26,58.43 108.45,58.70 108.64,60.93 108.83,61.74 109.02,60.02 109.21,58.84 109.40,59.25 109.59,60.51 109.78,61.69 109.96,61.31 110.15,62.30 110.34,63.38 110.53,64.53 110.72,66.62 110.91,65.42 111.10,64.32 111.29,63.34 111.48,62.50 111.67,62.95 111.86,62.37 112.05,60.93 112.24,61.08 112.43,62.21 112.62,63.19 112.81,62.24 113.00,64.94 113.19,76.39 113.38,85.09 113.57,76.48 113.76,65.15 113.95,62.69 114.14,63.49 114.33,64.45 114.52,65.55 114.70,66.78 114.89,68.12 115.08,68.53 115.27,67.19 115.46,65.96 115.65,64.87 115.84,63.94 116.03,65.06 116.22,64.03 116.41,63.90 116.60,63.81 116.79,64.77 116.98,64.06 117.17,67.50 117.36,67.25 117.55,65.81 117.74,65.86 117.93,68.82 118.12,67.81 118.31,69.05 118.50,70.45 118.69,71.98 118.88,88.65 119.07,111.07 119.26,124.29 119.44,115.04 119.63,97.85 119.82,86.86 120.01,83.21 120.20,93.70 120.39,89.70 120.58,85.89 120.77,82.35 120.96,79.16 121.15,76.36 121.34,77.04 121.53,75.17 121.72,75.92 121.91,74.91 122.10,74.59 122.29,73.93 122.48,74.88 122.67,76.43 122.86,78.40 123.05,80.77 123.24,83.49 123.43,86.48 123.62,83.48 123.81,82.26 124.00,81.20 124.18,80.31 124.37,80.82 124.56,83.85 124.75,92.83 124.94,104.22 125.13,114.65 125.32,119.79 125.51,117.77 125.70,108.48 125.89,98.41 126.08,90.76 126.27,86.19 126.46,84.76 126.65,84.73 126.84,85.73 127.03,86.93 127.22,88.28 127.41,89.76 127.60,90.91 127.79,89.16 127.98,87.54 128.17,86.19 128.36,85.01 128.55,84.22 128.74,83.24 128.92,82.92 129.11,83.80 129.30,84.09 129.49,84.83 129.68,84.50 129.87,83.71 130.06,84.28 130.25,82.34 130.44,84.25 130.63,83.53 130.82,84.51 131.01,85.69 131.20,87.05 131.39,88.59 131.58,90.29 131.77,92.12 131.96,94.05 132.15,94.38 132.34,93.10 132.53,87.54 132.72,119.93 132.91,154.81 133.10,179.98 133.29,205.13 133.48,192.05 133.66,179.41 133.85,166.12 134.04,151.38 134.23,135.85 134.42,121.16 134.61,111.24 134.80,107.81 134.99,104.40 135.18,101.05 135.37,97.77 135.56,95.53 135.75,91.53 135.94,91.26 136.13,91.67 136.32,91.94 136.51,92.33 136.70,91.81 136.89,92.25 137.08,92.97 137.27,94.81 137.46,93.58 137.65,93.62 137.84,94.36 138.03,95.25 138.22,96.27 138.40,97.43 138.59,98.71 138.78,100.10 138.97,101.59 139.16,101.19 139.35,100.76 139.54,100.37 139.73,100.01 139.92,99.71 140.11,99.46 140.30,99.27 140.49,99.33 140.68,100.04 140.87,100.37 141.06,100.12 141.25,99.35 141.44,99.87 141.63,101.00 141.82,101.91 142.01,101.66 142.20,101.93 142.39,103.88 142.58,102.17 142.77,102.72 142.96,104.37 143.14,108.61 143.33,107.38 143.52,109.08 143.71,110.82 143.90,111.73 144.09,114.60 144.28,119.53 144.47,126.05 144.66,132.08 144.85,134.05 145.04,131.41 145.23,125.47 145.42,119.06 145.61,116.10 145.80,114.80 145.99,113.57 146.18,112.66 146.37,111.83 146.56,111.09 146.75,110.89 146.94,109.87 147.13,109.60 147.32,109.48 147.51,109.55 147.70,108.87 147.88,108.40 148.07,108.42 148.26,108.37 148.45,108.47 148.64,110.56 148.83,109.25 149.02,109.82 149.21,110.75 149.40,111.21 149.59,112.03 149.78,112.94 149.97,113.93 150.16,115.01 150.35,115.71 150.54,116.49 150.73,117.32 150.92,118.21 151.11,116.74 151.30,115.60 151.49,114.53 151.68,113.54 151.87,112.64 152.06,111.85 152.25,111.27 152.44,110.60 152.62,112.63 152.81,110.78 153.00,111.92 153.19,111.25 153.38,113.72 153.57,111.65 153.76,112.33 153.95,114.33 154.14,114.84 154.33,115.05 154.52,114.80 154.71,114.43 154.90,115.29 155.09,116.25 155.28,117.30 155.47,118.44 155.66,119.80 155.85,121.22 156.04,119.84 156.23,119.65 156.42,119.49 156.61,119.38 156.80,119.31 156.99,119.28 157.18,119.31 157.36,120.48 157.55,120.44 157.74,119.76 157.93,121.66 158.12,122.77 158.31,122.04 158.50,121.91 158.69,124.61 158.88,125.25 159.07,124.00 159.26,124.66 159.45,127.10 159.64,126.84 159.83,126.40 160.02,127.77 160.21,127.62 160.40,129.86 160.59,128.13 160.78,128.87 160.97,129.09 161.16,129.53 161.35,129.65 161.54,137.77 161.73,145.75 161.92,153.37 162.10,146.07 162.29,138.93 162.48,131.64 162.67,131.82 162.86,137.61 163.05,143.19 163.24,138.24 163.43,133.00 163.62,133.46 163.81,133.72 164.00,137.21 164.19,140.55 164.38,144.12 164.57,147.56 164.76,150.93 164.95,154.30 165.14,172.74 165.33,191.18 165.52,196.76 165.71,189.48 165.90,182.19 166.09,183.76 166.28,185.34 166.47,186.97 166.66,188.66 166.84,190.36 167.03,194.62 167.22,198.88 167.41,199.58 167.60,196.72 167.79,193.86 167.98,195.89 168.17,197.91 168.36,200.02 168.55,202.21 168.74,204.40 168.93,202.72 169.12,201.04 169.31,201.65 169.50,204.54 169.69,207.44 169.88,198.67 170.07,189.91 170.26,186.28 170.45,187.79 170.64,189.30 170.83,183.30 171.02,177.30 171.21,178.83 171.40,187.89 171.58,196.96 171.77,179.94 171.96,162.93 172.15,154.42 172.34,156.85 172.53,159.08 172.72,150.78 172.91,141.75 173.10,141.84 173.29,141.80 173.48,141.29 173.67,140.79 173.86,140.72 174.05,140.64 174.24,140.55 174.43,140.33 174.62,139.81 174.81,139.69 175.00,140.76 175.19,140.33 175.38,139.14 175.57,138.96 175.76,139.30 175.95,139.31 176.14,138.56 176.32,137.90 176.51,137.84 176.70,137.70 176.89,137.77 177.08,138.03 177.27,137.78 177.46,137.82 177.65,137.94 177.84,138.13 178.03,138.37 178.22,138.76 178.41,138.66 178.60,138.66 178.79,139.05 178.98,139.24 179.17,139.74 179.36,140.26 179.55,140.00 179.74,139.83 179.93,140.00 180.12,140.47 180.31,141.08 180.50,140.58 180.69,140.24 180.88,140.47 181.06,141.14 181.25,141.31 181.44,140.67 181.63,140.65 181.82,140.99 182.01,141.48 182.20,141.68 182.39,141.70 182.58,142.10 182.77,143.22 182.96,143.30 183.15,142.83 183.34,142.93 183.53,143.45 183.72,144.03 183.91,144.23 184.10,144.17 184.29,144.50 184.48,145.21 184.67,145.56 184.86,145.37 185.05,145.23 185.24,146.28 185.43,146.68 185.62,146.12 185.80,146.28 185.99,146.34 186.18,146.78 186.37,146.48 186.56,146.17 186.75,146.48 186.94,146.90 187.13,146.32 187.32,146.30 187.51,146.59 187.70,146.95 187.89,147.36 188.08,147.48 188.27,147.74 188.46,147.80 188.65,148.18 188.84,148.72 189.03,148.92 189.22,148.85 189.41,149.13 189.60,149.47 189.79,149.73 189.98,150.18 190.17,150.15 190.36,150.23 190.54,150.72 190.73,150.89 190.92,151.11 191.11,151.51 191.30,151.70 191.49,151.80 191.68,152.03 191.87,152.45 192.06,152.65 192.25,153.46 192.44,153.68 192.63,153.41 192.82,153.68 193.01,153.92 193.20,154.29 193.39,154.74 193.58,154.78 193.77,155.13 193.96,155.17 194.15,155.61 194.34,155.85 194.53,156.25 194.72,156.43 194.91,156.74 195.10,156.84 195.28,157.18 195.47,157.63 195.66,157.86 195.85,158.00 196.04,158.42 196.23,158.57 196.42,159.36 196.61,159.98 196.80,159.66 196.99,159.71 197.18,160.07 197.37,161.31 197.56,161.96 197.75,162.96 197.94,164.13 198.13,165.11 198.32,166.15 198.51,167.19 198.70,168.09 198.89,171.36 199.08,174.64 199.27,177.91 199.46,181.26 199.65,184.47 199.84,187.73 200.02,194.54 200.21,201.35 200.40,207.31 200.59,212.41 200.78,217.51 200.97,216.91 201.16,216.31 201.35,214.10 201.54,210.27 201.73,206.45 201.92,211.84 202.11,217.23 202.30,218.99 202.49,217.12 202.68,215.24 202.87,216.57 203.06,217.89 203.25,217.34 203.44,214.91 203.63,212.47 203.82,215.68 204.01,218.89 204.20,219.90 204.39,218.73 204.58,217.56 204.76,215.19 204.95,212.82 205.14,211.70 205.33,211.82 205.52,211.93 205.71,211.20 205.90,210.47 206.09,208.87 206.28,206.40 206.47,203.93 206.66,210.67 206.85,217.40 207.04,217.54 207.23,211.09 207.42,204.64 207.61,202.96 207.80,201.28 207.99,199.30 208.18,197.00 208.37,194.71 208.56,194.71 208.75,181.41 208.94,168.02 209.13,171.57 209.32,169.74 209.50,167.91 209.69,168.47 209.88,171.24 210.07,174.01 210.26,176.34 210.45,173.46 210.64,170.56 210.83,167.67 211.02,167.36 211.21,167.17 211.40,167.19 211.59,167.79 211.78,170.19 211.97,172.59 212.16,173.59 212.35,171.22 212.54,168.85 212.73,167.27 212.92,167.47 213.11,168.68 213.30,169.90 213.49,169.86 213.68,168.67 213.87,167.49 214.06,167.51 214.24,167.34 214.43,167.98 214.62,168.89 214.81,169.34 215.00,168.46 215.19,167.59 215.38,167.45 215.57,167.43 215.76,167.62 215.95,167.67 216.14,167.52 216.33,169.59 216.52,172.48 216.71,175.37 216.90,173.57 217.09,170.71 217.28,167.85 217.47,167.61 217.66,167.74 217.85,167.70 218.04,169.18 218.23,171.80 218.42,174.42 218.61,172.83 218.80,170.28 218.98,167.91 219.17,167.88 219.36,167.92 219.55,168.18 219.74,168.15 219.93,169.38 220.12,171.24 220.31,173.10 220.50,171.57 220.69,169.82 220.88,168.56 221.07,168.44 221.26,168.50 221.45,168.61 221.64,168.75 221.83,169.96 222.02,171.50 222.21,173.04 222.40,172.56 222.59,171.13 222.78,169.70 222.97,169.11 223.16,169.06 223.35,169.17 223.54,169.33 223.72,169.29 223.91,171.66 224.10,173.75 224.29,171.25 224.48,169.41 224.67,169.51 224.86,169.52 225.05,171.26 225.24,174.16 225.43,177.04 225.62,175.99 225.81,173.45 226.00,170.94 226.19,171.06 226.38,171.37 226.57,171.57 226.76,171.87 226.95,172.61 227.14,174.85 227.33,177.06 227.52,176.72 227.71,176.55 227.90,176.66 228.09,178.52 228.28,180.39 228.46,184.34 228.65,188.29 228.84,187.86 229.03,189.28 229.22,194.31 229.41,197.17 229.60,195.36 229.79,189.06 229.98,184.77 230.17,183.87 230.36,180.47 230.55,176.88 230.74,175.00 230.93,174.02 231.12,172.94 231.31,173.29 231.50,173.43 231.69,174.54 231.88,175.17 232.07,174.45 232.26,174.18 232.45,174.32 232.64,174.91 232.83,177.73 233.02,180.53 233.20,181.53 233.39,179.11 233.58,176.71 233.77,175.69 233.96,175.86 234.15,176.77 234.34,178.90 234.53,179.21 234.72,177.48 234.91,176.92 235.10,177.12 235.29,177.27 235.48,177.55 235.67,177.74 235.86,178.38 236.05,181.38 236.24,184.34 236.43,183.77 236.62,181.29 236.81,179.25 237.00,179.60 237.19,179.77 237.38,180.04 237.57,180.35 237.76,180.57 237.94,181.17 238.13,182.87 238.32,183.58 238.51,182.38 238.70,181.77 238.89,182.13 239.08,182.23 239.27,182.50 239.46,183.19 239.65,184.93 239.84,186.54 240.03,185.30 240.22,184.08 240.41,184.91 240.60,186.16 240.79,187.31 240.98,188.42 241.17,191.05 241.36,193.89 241.55,194.48 241.74,193.92 241.93,194.21 242.12,195.30 242.31,196.47 242.50,197.58 242.68,198.77 242.87,200.67 243.06,202.55 243.25,204.40 243.44,206.33 243.63,208.20 243.82,210.07 244.01,211.95 244.20,213.85 244.39,215.72 244.58,217.61 244.77,219.50 244.96,221.69 245.15,221.68 245.34,221.12 245.53,221.25 245.72,221.53 245.91,221.78 246.10,221.36 246.29,221.70 246.48,221.26 246.67,221.52 246.86,221.27 247.05,221.71 247.24,221.47 247.42,221.71 247.61,221.36 247.80,221.48 247.99,221.64 248.18,221.34 248.37,221.46 248.56,221.62 248.75,221.43 248.94,221.61 249.13,221.43 249.32,221.66 249.51,221.45 249.70,221.76 249.89,221.54 250.08,221.68 250.27,221.65 250.46,221.59 250.65,221.78 250.84,221.72 251.03,221.75 251.22,221.58 251.41,221.71 251.60,221.63 251.79,221.67 251.98,221.70 252.16,221.49 252.35,221.60 252.54,221.55 252.73,221.52 252.92,221.47 253.11,221.66 253.30,221.75 253.49,221.56 253.68,221.69 253.87,221.78 254.06,221.34 254.25,221.44 254.44,221.53 254.63,221.69 254.82,221.33 255.01,221.43 255.20,221.64 255.39,221.15 255.58,221.15 255.77,221.14 255.96,221.17 256.15,221.34 256.34,221.50 256.53,221.22 256.72,221.61 256.90,220.96 257.09,220.59 257.28,220.26 257.47,219.96 257.66,219.70 257.85,219.48 258.04,219.29 258.23,219.14 258.42,219.02 258.61,218.72 258.80,218.28 258.99,217.82 259.18,217.32 259.37,216.80 259.56,216.25 259.75,215.68 259.94,215.07 260.13,214.57 260.32,214.05 260.51,213.50 260.70,213.08 260.89,213.16 261.08,213.26 261.27,213.38 261.46,213.53 261.64,213.71 261.83,213.90 262.02,214.12 262.21,214.37 262.40,214.63 262.59,214.92 262.78,214.38 262.97,213.70 263.16,213.00 263.35,212.27 263.54,211.52 263.73,210.74 263.92,209.94 264.11,209.12 264.30,208.28 264.49,207.42 264.68,207.41 264.87,207.88 265.06,208.37 265.25,208.89 265.44,209.45 265.63,210.02 265.82,210.63 266.01,211.27 266.20,211.93 266.38,211.78 266.57,210.89 266.76,209.98 266.95,209.04 267.14,208.08 267.33,207.10 267.52,206.09 267.71,205.06 267.90,204.01 268.09,202.93 268.28,201.83 268.47,201.76 268.66,202.39 268.85,203.05 269.04,203.74 269.23,204.45 269.42,205.19 269.61,205.96 269.80,206.76 269.99,207.58 270.18,207.74 270.37,206.66 270.56,205.57 270.75,204.45 270.94,203.22 271.12,201.95 271.31,200.66 271.50,199.33 271.69,197.97 271.88,196.58 272.07,195.16 272.26,194.33 272.45,195.03 272.64,195.77 272.83,196.54 273.02,197.34 273.21,198.18 273.40,191.86 273.59,193.73 273.78,192.89 273.97,192.04 274.16,191.47 274.35,191.38 274.54,191.34 274.73,191.17 274.92,191.51 275.11,192.18 275.30,192.86 275.49,192.70 275.68,191.85 275.86,190.99 276.05,190.51 276.24,190.40 276.43,190.46 276.62,190.53 276.81,190.73 277.00,190.92 277.19,190.77 277.38,190.63 277.57,190.48 277.76,190.36 277.95,190.44 278.14,190.49 278.33,190.50 278.52,190.52 278.71,190.47 278.90,190.75 279.09,191.04 279.28,191.08 279.47,190.84 279.66,190.59 279.85,190.71 280.04,190.64 280.23,190.69 280.42,190.73 280.60,191.21 280.79,192.14 280.98,192.67 281.17,191.79 281.36,190.91 281.55,190.88 281.74,190.94 281.93,190.84 282.12,190.96 282.31,191.21 282.50,191.49 282.69,191.78 282.88,191.88 283.07,191.64 283.26,191.40 283.45,191.22 283.64,191.26 283.83,191.31 284.02,191.40 284.21,191.48 284.40,191.58 284.59,191.65 284.78,191.95 284.97,192.52 285.16,193.08 285.34,192.90 285.53,192.51 285.72,192.24 285.91,192.27 286.10,192.39 286.29,192.51 286.48,192.54 286.67,192.65 286.86,192.80 287.05,193.06 287.24,193.32 287.43,193.42 287.62,193.33 287.81,193.25 288.00,193.29 288.19,193.36 288.38,193.36 288.57,193.26 288.76,193.27 288.95,193.19 289.14,193.83 289.33,194.68 289.52,195.43 289.71,194.53 289.90,193.62 290.08,193.06 290.27,193.01 290.46,192.94 290.65,193.05 290.84,193.25 291.03,193.44 291.22,193.63 291.41,193.37 291.60,193.11 291.79,192.85 291.98,192.72 292.17,192.66 292.36,192.66" fill="none" stroke="#f5a040" stroke-width="0.9" stroke-opacity="0.9" stroke-linejoin="round"/>
<polyline points="42.09,221.80 42.28,221.80 42.47,221.80 42.66,221.80 42.85,221.80 43.04,221.80 43.23,221.80 43.42,221.80 43.60,221.80 43.79,221.80 43.98,221.80 44.17,221.80 44.36,221.80 44.55,221.80 44.74,221.80 44.93,221.80 45.12,221.80 45.31,221.80 45.50,221.80 45.69,221.32 45.88,220.83 46.07,220.35 46.26,219.86 46.45,219.37 46.64,218.16 46.83,216.96 47.02,215.75 47.21,214.55 47.40,213.33 47.59,211.71 47.78,210.10 47.97,208.47 48.16,206.84 48.34,205.24 48.53,203.66 48.72,202.10 48.91,201.19 49.10,199.06 49.29,197.95 49.48,197.40 49.67,196.02 49.86,193.53 50.05,191.79 50.24,192.29 50.43,191.43 50.62,188.06 50.81,186.29 51.00,187.23 51.19,184.68 51.38,179.98 51.57,176.74 51.76,176.21 51.95,174.96 52.14,168.72 52.33,166.91 52.52,166.50 52.71,166.28 52.90,167.55 53.08,170.00 53.27,168.19 53.46,164.99 53.65,167.37 53.84,173.34 54.03,171.70 54.22,164.97 54.41,162.79 54.60,167.42 54.79,174.86 54.98,168.02 55.17,154.96 55.36,151.64 55.55,150.32 55.74,149.27 55.93,151.67 56.12,152.58 56.31,147.75 56.50,146.79 56.69,149.15 56.88,146.72 57.07,143.81 57.26,143.15 57.45,150.84 57.64,153.08 57.82,140.10 58.01,138.64 58.20,136.87 58.39,135.15 58.58,137.78 58.77,137.69 58.96,131.88 59.15,137.32 59.34,149.64 59.53,144.93 59.72,130.14 59.91,126.27 60.10,124.71 60.29,124.67 60.48,129.86 60.67,130.06 60.86,121.39 61.05,118.29 61.24,118.56 61.43,121.74 61.62,134.75 61.81,138.38 62.00,126.19 62.19,116.52 62.38,130.37 62.56,129.69 62.75,106.35 62.94,106.14 63.13,114.00 63.32,132.68 63.51,142.96 63.70,134.45 63.89,118.23 64.08,133.21 64.27,140.75 64.46,128.98 64.65,108.09 64.84,93.29 65.03,90.31 65.22,85.79 65.41,83.20 65.60,83.33 65.79,90.24 65.98,97.37 66.17,89.93 66.36,86.15 66.55,97.30 66.74,103.00 66.93,95.55 67.12,82.29 67.30,73.37 67.49,69.95 67.68,70.97 67.87,72.88 68.06,72.05 68.25,68.53 68.44,65.88 68.63,64.78 68.82,63.67 69.01,62.56 69.20,61.84 69.39,60.53 69.58,59.86 69.77,76.25 69.96,83.66 70.15,64.06 70.34,72.88 70.53,92.59 70.72,102.93 70.91,90.73 71.10,72.69 71.29,54.20 71.48,48.09 71.67,46.15 71.86,43.53 72.04,40.72 72.23,37.95 72.42,35.40 72.61,34.48 72.80,34.73 72.99,35.01 73.18,35.32 73.37,35.67 73.56,36.05 73.75,34.16 73.94,32.23 74.13,30.31 74.32,28.39 74.51,26.47 74.70,25.84 74.89,30.59 75.08,35.35 75.27,40.10 75.46,44.85 75.65,49.60 75.84,44.66 76.03,39.21 76.22,33.75 76.41,28.28 76.60,26.68 76.78,32.85 76.97,39.03 77.16,45.21 77.35,48.10 77.54,43.68 77.73,39.26 77.92,34.84 78.11,30.41 78.30,25.97 78.49,24.07 78.68,26.55 78.87,29.02 79.06,31.49 79.25,33.96 79.44,36.43 79.63,32.82 79.82,28.43 80.01,24.03 80.20,23.46 80.39,26.34 80.58,29.23 80.77,32.12 80.96,53.30 81.15,71.19 81.34,53.06 81.52,29.20 81.71,21.82 81.90,27.96 82.09,34.10 82.28,40.25 82.47,41.62 82.66,32.83 82.85,25.36 83.04,23.02 83.23,25.21 83.42,26.51 83.61,28.79 83.80,31.08 83.99,30.34 84.18,28.15 84.37,25.96 84.56,27.62 84.75,27.29 84.94,31.34 85.13,35.38 85.32,39.43 85.51,43.47 85.70,47.50 85.89,44.47 86.08,37.29 86.26,30.13 86.45,26.28 86.64,33.47 86.83,56.96 87.02,74.82 87.21,57.53 87.40,36.06 87.59,33.14 87.78,30.21 87.97,28.95 88.16,28.89 88.35,29.68 88.54,32.03 88.73,43.05 88.92,53.40 89.11,42.41 89.30,35.73 89.49,29.95 89.68,25.45 89.87,27.03 90.06,30.15 90.25,33.86 90.44,37.54 90.63,41.19 90.82,44.82 91.00,44.17 91.19,39.82 91.38,35.51 91.57,32.39 91.76,35.56 91.95,39.65 92.14,43.71 92.33,47.47 92.52,51.20 92.71,48.76 92.90,44.94 93.09,41.14 93.28,41.18 93.47,39.28 93.66,42.20 93.85,45.11 94.04,47.63 94.23,45.76 94.42,43.91 94.61,42.07 94.80,44.75 94.99,52.71 95.18,60.62 95.37,59.65 95.56,55.48 95.74,51.33 95.93,47.18 96.12,54.34 96.31,52.82 96.50,51.40 96.69,50.11 96.88,48.98 97.07,47.84 97.26,46.88 97.45,46.11 97.64,45.54 97.83,45.64 98.02,46.11 98.21,49.19 98.40,46.70 98.59,49.81 98.78,47.58 98.97,45.63 99.16,46.65 99.35,46.17 99.54,46.87 99.73,49.86 99.92,49.91 100.11,52.23 100.30,54.70 100.48,66.63 100.67,76.87 100.86,67.76 101.05,60.20 101.24,58.90 101.43,57.68 101.62,56.61 101.81,55.66 102.00,54.85 102.19,54.32 102.38,56.49 102.57,55.57 102.76,53.18 102.95,53.75 103.14,53.45 103.33,53.46 103.52,53.77 103.71,53.45 103.90,57.17 104.09,56.42 104.28,56.74 104.47,55.96 104.66,55.41 104.85,56.26 105.04,57.24 105.22,58.36 105.41,59.60 105.60,60.95 105.79,62.41 105.98,63.95 106.17,61.46 106.36,60.60 106.55,59.82 106.74,59.12 106.93,58.52 107.12,57.97 107.31,57.54 107.50,57.54 107.69,59.61 107.88,61.46 108.07,58.99 108.26,57.28 108.45,57.65 108.64,59.99 108.83,60.90 109.02,59.27 109.21,58.18 109.40,58.69 109.59,60.04 109.78,61.33 109.96,61.04 110.15,62.13 110.34,63.30 110.53,64.55 110.72,66.73 110.91,65.62 111.10,64.61 111.29,63.73 111.48,62.99 111.67,63.54 111.86,63.05 112.05,61.71 112.24,61.96 112.43,63.19 112.62,64.27 112.81,63.43 113.00,66.21 113.19,77.66 113.38,86.38 113.57,77.94 113.76,66.82 113.95,64.50 114.14,65.39 114.33,66.44 114.52,67.63 114.70,68.95 114.89,70.37 115.08,70.87 115.27,69.65 115.46,68.55 115.65,67.57 115.84,66.77 116.03,67.96 116.22,67.06 116.41,67.04 116.60,67.05 116.79,68.09 116.98,67.50 117.17,70.96 117.36,70.82 117.55,69.51 117.74,69.66 117.93,72.65 118.12,71.77 118.31,73.08 118.50,74.53 118.69,76.13 118.88,92.42 119.07,114.28 119.26,127.18 119.44,118.27 119.63,101.68 119.82,91.12 120.01,87.67 120.20,97.91 120.39,94.13 120.58,90.53 120.77,87.20 120.96,84.22 121.15,81.61 121.34,82.36 121.53,80.66 121.72,81.47 121.91,80.59 122.10,80.36 122.29,79.81 122.48,80.81 122.67,82.38 122.86,84.35 123.05,86.71 123.24,89.39 123.43,92.33 123.62,89.54 123.81,88.46 124.00,87.52 124.18,86.76 124.37,87.33 124.56,90.29 124.75,98.93 124.94,109.85 125.13,119.85 125.32,124.79 125.51,122.93 125.70,114.17 125.89,104.68 126.08,97.49 126.27,93.23 126.46,91.95 126.65,92.00 126.84,93.03 127.03,94.24 127.22,95.60 127.41,97.08 127.60,98.23 127.79,96.66 127.98,95.20 128.17,94.01 128.36,92.98 128.55,92.32 128.74,91.48 128.92,91.25 129.11,92.16 129.30,92.51 129.49,93.28 129.68,93.06 129.87,92.39 130.06,93.00 130.25,91.27 130.44,93.14 130.63,92.55 130.82,93.54 131.01,94.72 131.20,96.07 131.39,97.58 131.58,99.24 131.77,101.02 131.96,102.89 132.15,103.27 132.34,102.15 132.53,97.06 132.72,127.22 132.91,159.64 133.10,183.02 133.29,206.35 133.48,194.24 133.66,182.56 133.85,170.29 134.04,156.70 134.23,142.39 134.42,128.88 134.61,119.78 134.80,116.68 134.99,113.61 135.18,110.59 135.37,107.64 135.56,105.65 135.75,102.04 135.94,101.87 136.13,102.32 136.32,102.64 136.51,103.08 136.70,102.67 136.89,103.16 137.08,103.89 137.27,105.65 137.46,104.59 137.65,104.71 137.84,105.46 138.03,106.34 138.22,107.34 138.40,108.47 138.59,109.71 138.78,111.04 138.97,112.47 139.16,112.17 139.35,111.85 139.54,111.56 139.73,111.32 139.92,111.11 140.11,110.96 140.30,110.85 140.49,110.98 140.68,111.69 140.87,112.06 141.06,111.90 141.25,111.28 141.44,111.82 141.63,112.90 141.82,113.80 142.01,113.64 142.20,113.94 142.39,115.77 142.58,114.30 142.77,114.86 142.96,116.41 143.14,120.28 143.33,119.25 143.52,120.83 143.71,122.46 143.90,123.33 144.09,125.96 144.28,130.43 144.47,136.31 144.66,141.74 144.85,143.55 145.04,141.25 145.23,136.02 145.42,130.36 145.61,127.79 145.80,126.69 145.99,125.66 146.18,124.91 146.37,124.24 146.56,123.65 146.75,123.54 146.94,122.70 147.13,122.52 147.32,122.48 147.51,122.61 147.70,122.07 147.88,121.72 148.07,121.80 148.26,121.82 148.45,121.98 148.64,123.88 148.83,122.80 149.02,123.36 149.21,124.24 149.40,124.70 149.59,125.49 149.78,126.35 149.97,127.28 150.16,128.28 150.35,128.95 150.54,129.67 150.73,130.44 150.92,131.26 151.11,130.02 151.30,129.07 151.49,128.18 151.68,127.36 151.87,126.63 152.06,125.98 152.25,125.52 152.44,124.98 152.62,126.79 152.81,125.23 153.00,126.27 153.19,125.74 153.38,127.93 153.57,126.17 153.76,126.81 153.95,128.59 154.14,129.07 154.33,129.30 154.52,129.13 154.71,128.86 154.90,129.64 155.09,130.52 155.28,131.47 155.47,132.50 155.66,133.72 155.85,134.98 156.04,133.83 156.23,133.71 156.42,133.62 156.61,133.56 156.80,133.54 156.99,133.57 157.18,133.63 157.36,134.68 157.55,134.69 157.74,134.15 157.93,135.82 158.12,136.81 158.31,136.23 158.50,136.16 158.69,138.52 158.88,139.11 159.07,138.07 159.26,138.68 159.45,140.81 159.64,140.62 159.83,140.29 160.02,141.50 160.21,141.41 160.40,143.36 160.59,141.93 160.78,142.59 160.97,142.82 161.16,143.23 161.35,143.37 161.54,150.32 161.73,157.14 161.92,163.64 162.10,157.47 162.29,151.44 162.48,145.29 162.67,145.49 162.86,150.43 163.05,155.19 163.24,151.03 163.43,146.63 163.62,147.06 163.81,147.31 164.00,150.30 164.19,153.15 164.38,156.20 164.57,159.14 164.76,162.02 164.95,164.88 165.14,180.45 165.33,196.01 165.52,200.72 165.71,194.60 165.90,188.48 166.09,189.82 166.28,191.16 166.47,192.55 166.66,193.98 166.84,195.42 167.03,199.00 167.22,202.59 167.41,203.19 167.60,200.80 167.79,198.42 167.98,200.12 168.17,201.83 168.36,203.60 168.55,205.44 168.74,207.28 168.93,205.88 169.12,204.49 169.31,205.00 169.50,207.42 169.69,209.84 169.88,202.55 170.07,195.27 170.26,192.26 170.45,193.53 170.64,194.80 170.83,189.83 171.02,184.87 171.21,186.15 171.40,193.69 171.58,201.22 171.77,187.13 171.96,173.06 172.15,166.05 172.34,168.08 172.53,169.96 172.72,163.13 172.91,155.70 173.10,155.81 173.29,155.80 173.48,155.42 173.67,155.04 173.86,155.01 174.05,154.98 174.24,154.94 174.43,154.80 174.62,154.40 174.81,154.33 175.00,155.25 175.19,154.93 175.38,153.99 175.57,153.87 175.76,154.18 175.95,154.23 176.14,153.65 176.32,153.14 176.51,153.13 176.70,153.05 176.89,153.13 177.08,153.36 177.27,153.17 177.46,153.23 177.65,153.34 177.84,153.51 178.03,153.73 178.22,154.06 178.41,154.00 178.60,154.02 178.79,154.36 178.98,154.53 179.17,154.96 179.36,155.41 179.55,155.22 179.74,155.10 179.93,155.26 180.12,155.66 180.31,156.18 180.50,155.79 180.69,155.54 180.88,155.74 181.06,156.31 181.25,156.46 181.44,155.96 181.63,155.98 181.82,156.27 182.01,156.68 182.20,156.87 182.39,156.91 182.58,157.25 182.77,158.18 182.96,158.26 183.15,157.90 183.34,158.00 183.53,158.44 183.72,158.93 183.91,159.11 184.10,159.09 184.29,159.37 184.48,159.96 184.67,160.26 184.86,160.13 185.05,160.04 185.24,160.90 185.43,161.25 185.62,160.81 185.80,160.96 185.99,161.03 186.18,161.40 186.37,161.18 186.56,160.95 186.75,161.22 186.94,161.57 187.13,161.13 187.32,161.13 187.51,161.38 187.70,161.68 187.89,162.04 188.08,162.15 188.27,162.38 188.46,162.45 188.65,162.77 188.84,163.22 189.03,163.40 189.22,163.36 189.41,163.60 189.60,163.90 189.79,164.12 189.98,164.50 190.17,164.50 190.36,164.58 190.54,164.99 190.73,165.14 190.92,165.33 191.11,165.67 191.30,165.84 191.49,165.93 191.68,166.14 191.87,166.49 192.06,166.67 192.25,167.33 192.44,167.52 192.63,167.32 192.82,167.56 193.01,167.76 193.20,168.08 193.39,168.45 193.58,168.50 193.77,168.79 193.96,168.84 194.15,169.21 194.34,169.41 194.53,169.75 194.72,169.91 194.91,170.17 195.10,170.26 195.28,170.55 195.47,170.93 195.66,171.12 195.85,171.25 196.04,171.60 196.23,171.74 196.42,172.37 196.61,172.88 196.80,172.64 196.99,172.70 197.18,173.00 197.37,173.99 197.56,174.52 197.75,175.35 197.94,176.32 198.13,177.12 198.32,177.98 198.51,178.84 198.70,179.57 198.89,182.18 199.08,184.79 199.27,187.39 199.46,190.04 199.65,192.57 199.84,195.15 200.02,200.49 200.21,205.83 200.40,210.49 200.59,214.48 200.78,218.46 200.97,217.99 201.16,217.53 201.35,215.81 201.54,212.85 201.73,209.89 201.92,214.08 202.11,218.26 202.30,219.63 202.49,218.18 202.68,216.74 202.87,217.76 203.06,218.79 203.25,218.36 203.44,216.49 203.63,214.63 203.82,217.10 204.01,219.56 204.20,220.35 204.39,219.45 204.58,218.55 204.76,216.74 204.95,214.94 205.14,214.08 205.33,214.18 205.52,214.28 205.71,213.72 205.90,213.17 206.09,211.96 206.28,210.09 206.47,208.23 206.66,213.35 206.85,218.47 207.04,218.58 207.23,213.70 207.42,208.83 207.61,207.57 207.80,206.31 207.99,204.83 208.18,203.12 208.37,201.41 208.56,201.42 208.75,191.45 208.94,181.42 209.13,184.11 209.32,182.78 209.50,181.44 209.69,181.89 209.88,183.99 210.07,186.10 210.26,187.87 210.45,185.75 210.64,183.62 210.83,181.50 211.02,181.30 211.21,181.20 211.40,181.25 211.59,181.73 211.78,183.54 211.97,185.35 212.16,186.13 212.35,184.41 212.54,182.69 212.73,181.56 212.92,181.74 213.11,182.67 213.30,183.60 213.49,183.60 213.68,182.76 213.87,181.93 214.06,181.98 214.24,181.89 214.43,182.40 214.62,183.09 214.81,183.46 215.00,182.85 215.19,182.25 215.38,182.18 215.57,182.20 215.76,182.38 215.95,182.44 216.14,182.37 216.33,183.91 216.52,186.04 216.71,188.16 216.90,186.89 217.09,184.85 217.28,182.82 217.47,182.68 217.66,182.81 217.85,182.82 218.04,183.92 218.23,185.83 218.42,187.75 218.61,186.64 218.80,184.84 218.98,183.18 219.17,183.19 219.36,183.26 219.55,183.47 219.74,183.48 219.93,184.40 220.12,185.76 220.31,187.11 220.50,186.05 220.69,184.84 220.88,183.98 221.07,183.93 221.26,184.01 221.45,184.11 221.64,184.23 221.83,185.11 222.02,186.22 222.21,187.33 222.40,187.02 222.59,186.03 222.78,185.04 222.97,184.65 223.16,184.63 223.35,184.74 223.54,184.87 223.72,184.87 223.91,186.56 224.10,188.04 224.29,186.31 224.48,185.04 224.67,185.14 224.86,185.16 225.05,186.41 225.24,188.46 225.43,190.50 225.62,189.78 225.81,188.02 226.00,186.29 226.19,186.40 226.38,186.63 226.57,186.80 226.76,187.02 226.95,187.56 227.14,189.14 227.33,190.70 227.52,190.48 227.71,190.38 227.90,190.48 228.09,191.79 228.28,193.10 228.46,195.86 228.65,198.61 228.84,198.33 229.03,199.32 229.22,202.81 229.41,204.80 229.60,203.56 229.79,199.23 229.98,196.29 230.17,195.68 230.36,193.36 230.55,190.90 230.74,189.63 230.93,188.98 231.12,188.26 231.31,188.52 231.50,188.64 231.69,189.42 231.88,189.88 232.07,189.42 232.26,189.27 232.45,189.39 232.64,189.83 232.83,191.78 233.02,193.71 233.20,194.42 233.39,192.81 233.58,191.21 233.77,190.54 233.96,190.69 234.15,191.34 234.34,192.80 234.53,193.04 234.72,191.90 234.91,191.55 235.10,191.72 235.29,191.85 235.48,192.07 235.67,192.22 235.86,192.68 236.05,194.72 236.24,196.73 236.43,196.37 236.62,194.74 236.81,193.40 237.00,193.66 237.19,193.80 237.38,194.01 237.57,194.24 237.76,194.41 237.94,194.84 238.13,195.99 238.32,196.48 238.51,195.72 238.70,195.34 238.89,195.60 239.08,195.69 239.27,195.90 239.46,196.37 239.65,197.54 239.84,198.62 240.03,197.83 240.22,197.05 240.41,197.62 240.60,198.46 240.79,199.24 240.98,199.99 241.17,201.73 241.36,203.60 241.55,204.00 241.74,203.65 241.93,203.86 242.12,204.59 242.31,205.36 242.50,206.10 242.68,206.89 242.87,208.13 243.06,209.36 243.25,210.56 243.44,211.82 243.63,213.03 243.82,214.25 244.01,215.47 244.20,216.69 244.39,217.90 244.58,219.11 244.77,220.32 244.96,221.73 245.15,221.72 245.34,221.36 245.53,221.45 245.72,221.63 245.91,221.79 246.10,221.52 246.29,221.73 246.48,221.46 246.67,221.62 246.86,221.46 247.05,221.74 247.24,221.59 247.42,221.74 247.61,221.52 247.80,221.60 247.99,221.70 248.18,221.51 248.37,221.59 248.56,221.69 248.75,221.57 248.94,221.68 249.13,221.57 249.32,221.71 249.51,221.58 249.70,221.78 249.89,221.64 250.08,221.73 250.27,221.70 250.46,221.67 250.65,221.78 250.84,221.75 251.03,221.77 251.22,221.66 251.41,221.75 251.60,221.70 251.79,221.72 251.98,221.74 252.16,221.61 252.35,221.68 252.54,221.65 252.73,221.63 252.92,221.60 253.11,221.72 253.30,221.77 253.49,221.65 253.68,221.73 253.87,221.79 254.06,221.52 254.25,221.58 254.44,221.64 254.63,221.73 254.82,221.52 255.01,221.58 255.20,221.71 255.39,221.41 255.58,221.40 255.77,221.40 255.96,221.42 256.15,221.52 256.34,221.62 256.53,221.45 256.72,221.69 256.90,221.29 257.09,221.07 257.28,220.87 257.47,220.69 257.66,220.53 257.85,220.40 258.04,220.29 258.23,220.19 258.42,220.13 258.61,219.95 258.80,219.68 258.99,219.40 259.18,219.11 259.37,218.79 259.56,218.47 259.75,218.12 259.94,217.76 260.13,217.46 260.32,217.15 260.51,216.83 260.70,216.57 260.89,216.62 261.08,216.69 261.27,216.76 261.46,216.86 261.64,216.96 261.83,217.08 262.02,217.21 262.21,217.36 262.40,217.52 262.59,217.70 262.78,217.38 262.97,216.97 263.16,216.55 263.35,216.12 263.54,215.68 263.73,215.22 263.92,214.75 264.11,214.26 264.30,213.77 264.49,213.26 264.68,213.26 264.87,213.54 265.06,213.84 265.25,214.15 265.44,214.48 265.63,214.83 265.82,215.19 266.01,215.57 266.20,215.96 266.38,215.88 266.57,215.35 266.76,214.82 266.95,214.27 267.14,213.71 267.33,213.13 267.52,212.54 267.71,211.94 267.90,211.32 268.09,210.69 268.28,210.05 268.47,210.02 268.66,210.39 268.85,210.78 269.04,211.19 269.23,211.62 269.42,212.05 269.61,212.51 269.80,212.98 269.99,213.47 270.18,213.56 270.37,212.94 270.56,212.30 270.75,211.65 270.94,210.94 271.12,210.20 271.31,209.45 271.50,208.69 271.69,207.90 271.88,207.10 272.07,206.27 272.26,205.80 272.45,206.21 272.64,206.65 272.83,207.10 273.02,207.58 273.21,208.07 273.40,204.40 273.59,205.50 273.78,205.02 273.97,204.53 274.16,204.21 274.35,204.17 274.54,204.15 274.73,204.06 274.92,204.27 275.11,204.67 275.30,205.06 275.49,204.98 275.68,204.50 275.86,204.01 276.05,203.74 276.24,203.69 276.43,203.73 276.62,203.78 276.81,203.90 277.00,204.02 277.19,203.94 277.38,203.87 277.57,203.79 277.76,203.73 277.95,203.78 278.14,203.81 278.33,203.82 278.52,203.83 278.71,203.80 278.90,203.97 279.09,204.13 279.28,204.16 279.47,204.02 279.66,203.88 279.85,203.95 280.04,203.91 280.23,203.94 280.42,203.96 280.60,204.24 280.79,204.77 280.98,205.08 281.17,204.57 281.36,204.07 281.55,204.05 281.74,204.08 281.93,204.03 282.12,204.10 282.31,204.24 282.50,204.41 282.69,204.57 282.88,204.63 283.07,204.49 283.26,204.35 283.45,204.25 283.64,204.27 283.83,204.31 284.02,204.35 284.21,204.40 284.40,204.46 284.59,204.50 284.78,204.68 284.97,205.00 285.16,205.32 285.34,205.22 285.53,205.00 285.72,204.85 285.91,204.86 286.10,204.93 286.29,205.00 286.48,205.02 286.67,205.08 286.86,205.17 287.05,205.32 287.24,205.47 287.43,205.53 287.62,205.48 287.81,205.43 288.00,205.46 288.19,205.50 288.38,205.49 288.57,205.44 288.76,205.45 288.95,205.40 289.14,205.77 289.33,206.25 289.52,206.69 289.71,206.17 289.90,205.65 290.08,205.33 290.27,205.30 290.46,205.26 290.65,205.32 290.84,205.44 291.03,205.55 291.22,205.66 291.41,205.51 291.60,205.36 291.79,205.21 291.98,205.14 292.17,205.10 292.36,205.10" fill="none" stroke="#40a8e8" stroke-width="0.9" stroke-opacity="0.9" stroke-linejoin="round"/>
<polyline points="42.09,221.80 42.28,221.80 42.47,221.80 42.66,221.80 42.85,221.80 43.04,221.80 43.23,221.80 43.42,221.80 43.60,221.80 43.79,221.80 43.98,221.80 44.17,221.80 44.36,221.80 44.55,221.80 44.74,221.80 44.93,221.80 45.12,221.80 45.31,221.80 45.50,221.80 45.69,221.39 45.88,220.98 46.07,220.56 46.26,220.15 46.45,219.74 46.64,218.71 46.83,217.68 47.02,216.65 47.21,215.64 47.40,214.60 47.59,213.23 47.78,211.85 47.97,210.47 48.16,209.08 48.34,207.72 48.53,206.38 48.72,205.06 48.91,204.28 49.10,202.47 49.29,201.53 49.48,201.06 49.67,199.89 49.86,197.77 50.05,196.29 50.24,196.72 50.43,195.99 50.62,193.12 50.81,191.62 51.00,192.42 51.19,190.25 51.38,186.25 51.57,183.50 51.76,183.11 51.95,182.10 52.14,176.88 52.33,175.42 52.52,175.14 52.71,175.02 52.90,176.16 53.08,178.28 53.27,176.83 53.46,174.22 53.65,176.28 53.84,181.34 54.03,180.03 54.22,174.49 54.41,172.75 54.60,176.67 54.79,182.90 54.98,177.30 55.17,166.57 55.36,163.91 55.55,162.92 55.74,162.15 55.93,164.21 56.12,165.04 56.31,161.17 56.50,160.48 56.69,162.50 56.88,160.61 57.07,158.33 57.26,157.90 57.45,164.23 57.64,166.14 57.82,155.73 58.01,154.65 58.20,153.32 58.39,152.04 58.58,154.27 58.77,154.30 58.96,149.75 59.15,154.21 59.34,164.12 59.53,160.41 59.72,148.65 59.91,145.63 60.10,144.45 60.29,144.49 60.48,148.68 60.67,148.90 60.86,142.07 61.05,139.68 61.24,139.97 61.43,142.55 61.62,152.91 61.81,155.84 62.00,146.27 62.19,138.70 62.38,149.69 62.56,149.22 62.75,130.90 62.94,130.82 63.13,137.07 63.32,151.81 63.51,159.93 63.70,153.31 63.89,140.67 64.08,152.46 64.27,158.42 64.46,149.27 64.65,133.03 64.84,121.56 65.03,119.15 65.22,115.53 65.41,113.41 65.60,113.43 65.79,118.75 65.98,124.25 66.17,118.33 66.36,115.27 66.55,123.95 66.74,128.34 66.93,122.40 67.12,111.87 67.30,104.74 67.49,101.94 67.68,102.65 67.87,104.06 68.06,103.30 68.25,100.41 68.44,98.21 68.63,97.23 68.82,96.24 69.01,95.26 69.20,94.58 69.39,93.43 69.58,92.79 69.77,105.75 69.96,111.57 70.15,95.82 70.34,102.76 70.53,118.43 70.72,126.34 70.91,116.16 71.10,101.17 71.29,85.71 71.48,80.22 71.67,78.12 71.86,75.44 72.04,72.59 72.23,69.75 72.42,67.09 72.61,65.76 72.80,65.41 72.99,65.08 73.18,64.78 73.37,64.52 73.56,64.28 73.75,62.11 73.94,59.91 74.13,57.69 74.32,55.46 74.51,53.62 74.70,52.88 74.89,56.79 75.08,60.71 75.27,64.63 75.46,68.56 75.65,72.50 75.84,68.04 76.03,63.13 76.22,58.20 76.41,53.25 76.60,51.66 76.78,56.85 76.97,62.06 77.16,67.28 77.35,69.64 77.54,65.59 77.73,61.53 77.92,57.46 78.11,53.37 78.30,49.47 78.49,47.80 78.68,49.98 78.87,52.15 79.06,54.32 79.25,56.50 79.44,58.68 79.63,55.50 79.82,51.63 80.01,47.76 80.20,47.26 80.39,49.79 80.58,52.34 80.77,54.88 80.96,73.52 81.15,89.27 81.34,73.31 81.52,52.31 81.71,45.82 81.90,51.22 82.09,56.62 82.28,62.04 82.47,63.24 82.66,55.51 82.85,48.93 83.04,46.87 83.23,48.80 83.42,49.94 83.61,51.96 83.80,53.96 83.99,53.32 84.18,51.39 84.37,49.46 84.56,50.92 84.75,50.63 84.94,54.19 85.13,57.75 85.32,61.31 85.51,64.87 85.70,68.42 85.89,65.75 86.08,59.43 86.26,53.13 86.45,49.74 86.64,56.07 86.83,76.74 87.02,92.46 87.21,77.24 87.40,58.35 87.59,55.78 87.78,53.20 87.97,52.09 88.16,52.04 88.35,52.73 88.54,54.80 88.73,64.50 88.92,73.60 89.11,63.94 89.30,58.06 89.49,52.97 89.68,48.72 89.87,49.82 90.06,52.30 90.25,55.30 90.44,58.28 90.63,61.26 90.82,64.22 91.00,63.37 91.19,59.22 91.38,55.09 91.57,52.00 91.76,54.56 91.95,57.96 92.14,61.34 92.33,64.45 92.52,67.56 92.71,65.08 92.90,61.35 93.09,57.62 93.28,57.37 93.47,55.35 93.66,57.73 93.85,60.11 94.04,62.15 94.23,60.15 94.42,58.16 94.61,56.18 94.80,58.36 94.99,65.44 95.18,72.50 95.37,71.66 95.56,67.85 95.74,64.07 95.93,60.30 96.12,66.98 96.31,65.63 96.50,64.38 96.69,63.25 96.88,62.27 97.07,61.28 97.26,60.46 97.45,59.81 97.64,59.34 97.83,59.50 98.02,60.00 98.21,62.90 98.40,60.67 98.59,63.59 98.78,61.60 98.97,59.88 99.16,60.88 99.35,60.50 99.54,61.21 99.73,64.01 99.92,64.13 100.11,66.31 100.30,68.64 100.48,79.63 100.67,89.07 100.86,80.78 101.05,73.92 101.24,72.78 101.43,71.73 101.62,70.81 101.81,70.01 102.00,69.33 102.19,68.90 102.38,70.95 102.57,70.17 102.76,68.05 102.95,68.68 103.14,68.51 103.33,68.63 103.52,69.02 103.71,68.84 103.90,72.33 104.09,71.75 104.28,72.15 104.47,71.54 104.66,71.15 104.85,72.02 105.04,73.02 105.22,74.14 105.41,75.36 105.60,76.69 105.79,78.11 105.98,79.60 106.17,77.46 106.36,76.79 106.55,76.19 106.74,75.67 106.93,75.24 107.12,74.85 107.31,74.57 107.50,74.68 107.69,76.64 107.88,78.40 108.07,76.30 108.26,74.88 108.45,75.31 108.64,77.51 108.83,78.43 109.02,77.08 109.21,76.22 109.40,76.78 109.59,78.09 109.78,79.34 109.96,79.19 110.15,80.26 110.34,81.40 110.53,82.61 110.72,84.65 110.91,83.77 111.10,82.98 111.29,82.31 111.48,81.76 111.67,82.35 111.86,82.03 112.05,80.96 112.24,81.28 112.43,82.70 112.62,83.99 112.81,83.59 113.00,86.36 113.19,96.64 113.38,104.50 113.57,97.51 113.76,88.24 113.95,86.58 114.14,87.69 114.33,88.92 114.52,90.28 114.70,91.74 114.89,93.28 115.08,94.03 115.27,93.34 115.46,92.74 115.65,92.26 115.84,91.92 116.03,93.26 116.22,92.84 116.41,93.17 116.60,93.52 116.79,94.72 116.98,94.58 117.17,97.77 117.36,97.98 117.55,97.25 117.74,97.71 117.93,100.48 118.12,100.10 118.31,101.49 118.50,103.00 118.69,104.61 118.88,118.01 119.07,135.78 119.26,146.32 119.44,139.44 119.63,126.51 119.82,118.43 120.01,116.00 120.20,124.36 120.39,121.67 120.58,119.15 120.77,116.85 120.96,114.84 121.15,113.13 121.34,114.03 121.53,113.03 121.72,113.97 121.91,113.49 122.10,113.51 122.29,113.28 122.48,114.24 122.67,115.64 122.86,117.33 123.05,119.31 123.24,121.53 123.43,123.93 123.62,122.01 123.81,121.37 124.00,120.85 124.18,120.47 124.37,121.08 124.56,123.49 124.75,130.12 124.94,138.42 125.13,146.01 125.32,149.82 125.51,148.58 125.70,142.24 125.89,135.39 126.08,130.26 126.27,127.31 126.46,126.55 126.65,126.77 126.84,127.71 127.03,128.77 127.22,129.94 127.41,131.20 127.60,132.21 127.79,131.25 127.98,130.38 128.17,129.70 128.36,129.14 128.55,128.85 128.74,128.43 128.92,128.46 129.11,129.29 129.30,129.72 129.49,130.46 129.68,130.49 129.87,130.20 130.06,130.82 130.25,129.79 130.44,131.29 130.63,131.06 130.82,131.95 131.01,132.95 131.20,134.08 131.39,135.24 131.58,136.51 131.77,137.85 131.96,139.26 132.15,139.62 132.34,138.95 132.53,135.54 132.72,156.47 132.91,178.92 133.10,195.09 133.29,211.17 133.48,202.87 133.66,194.87 133.85,186.50 134.04,177.24 134.23,167.52 134.42,158.37 134.61,152.25 134.80,150.23 134.99,148.23 135.18,146.28 135.37,144.38 135.56,143.13 135.75,140.79 135.94,140.79 136.13,141.20 136.32,141.52 136.51,141.93 136.70,141.76 136.89,142.19 137.08,142.79 137.27,144.07 137.46,143.47 137.65,143.65 137.84,144.26 138.03,144.95 138.22,145.72 138.40,146.58 138.59,147.50 138.78,148.49 138.97,149.53 139.16,149.44 139.35,149.33 139.54,149.24 139.73,149.18 139.92,149.14 140.11,149.15 140.30,149.18 140.49,149.36 140.68,149.93 140.87,150.41 141.06,150.54 141.25,150.37 141.44,150.95 141.63,151.88 141.82,152.69 142.01,152.82 142.20,153.25 142.39,154.63 142.58,153.93 142.77,154.52 142.96,155.72 143.14,158.36 143.33,157.94 143.52,159.15 143.71,160.37 143.90,161.12 144.09,162.95 144.28,165.89 144.47,169.67 144.66,173.16 144.85,174.43 145.04,173.22 145.23,170.25 145.42,167.05 145.61,165.71 145.80,165.27 145.99,164.87 146.18,164.64 146.37,164.45 146.56,164.32 146.75,164.47 146.94,164.20 147.13,164.32 147.32,164.51 147.51,164.81 147.70,164.72 147.88,164.74 148.07,165.02 148.26,165.25 148.45,165.56 148.64,166.85 148.83,166.46 149.02,167.00 149.21,167.71 149.40,168.18 149.59,168.83 149.78,169.52 149.97,170.24 150.16,171.00 150.35,171.50 150.54,172.03 150.73,172.58 150.92,173.16 151.11,172.63 151.30,172.26 151.49,171.92 151.68,171.63 151.87,171.38 152.06,171.18 152.25,171.08 152.44,170.94 152.62,172.04 152.81,171.37 153.00,172.05 153.19,171.92 153.38,173.20 153.57,172.44 153.76,172.91 153.95,173.97 154.14,174.36 154.33,174.61 154.52,174.67 154.71,174.67 154.90,175.21 155.09,175.79 155.28,176.41 155.47,177.06 155.66,177.81 155.85,178.57 156.04,178.13 156.23,178.21 156.42,178.30 156.61,178.40 156.80,178.53 156.99,178.68 157.18,178.84 157.36,179.49 157.55,179.63 157.74,179.50 157.93,180.44 158.12,181.05 158.31,180.90 158.50,181.00 158.69,182.25 158.88,182.66 159.07,182.30 159.26,182.72 159.45,183.84 159.64,183.88 159.83,183.77 160.02,184.38 160.21,184.38 160.40,185.33 160.59,184.71 160.78,185.06 160.97,185.21 161.16,185.45 161.35,185.55 161.54,188.81 161.73,191.99 161.92,195.02 162.10,192.21 162.29,189.48 162.48,186.69 162.67,186.83 162.86,189.13 163.05,191.35 163.24,189.49 163.43,187.52 163.62,187.76 163.81,187.91 164.00,189.31 164.19,190.65 164.38,192.07 164.57,193.44 164.76,194.77 164.95,196.10 165.14,203.15 165.33,210.18 165.52,212.32 165.71,209.58 165.90,206.85 166.09,207.47 166.28,208.08 166.47,208.72 166.66,209.38 166.84,210.03 167.03,211.65 167.22,213.26 167.41,213.53 167.60,212.48 167.79,211.44 167.98,212.21 168.17,212.97 168.36,213.77 168.55,214.59 168.74,215.41 168.93,214.80 169.12,214.20 169.31,214.43 169.50,215.50 169.69,216.57 169.88,213.39 170.07,210.22 170.26,208.93 170.45,209.50 170.64,210.07 170.83,207.93 171.02,205.79 171.21,206.37 171.40,209.65 171.58,212.92 171.77,206.86 171.96,200.82 172.15,197.83 172.34,198.74 172.53,199.57 172.72,196.68 172.91,193.54 173.10,193.62 173.29,193.66 173.48,193.53 173.67,193.41 173.86,193.44 174.05,193.46 174.24,193.49 174.43,193.47 174.62,193.34 174.81,193.35 175.00,193.77 175.19,193.68 175.38,193.32 175.57,193.32 175.76,193.49 175.95,193.54 176.14,193.34 176.32,193.17 176.51,193.21 176.70,193.21 176.89,193.29 177.08,193.44 177.27,193.41 177.46,193.48 177.65,193.57 177.84,193.69 178.03,193.83 178.22,194.01 178.41,194.03 178.60,194.09 178.79,194.31 178.98,194.46 179.17,194.72 179.36,194.98 179.55,194.98 179.74,195.02 179.93,195.16 180.12,195.41 180.31,195.69 180.50,195.62 180.69,195.60 180.88,195.76 181.06,196.07 181.25,196.21 181.44,196.09 181.63,196.18 181.82,196.37 182.01,196.61 182.20,196.77 182.39,196.86 182.58,197.07 182.77,197.50 182.96,197.62 183.15,197.56 183.34,197.67 183.53,197.92 183.72,198.18 183.91,198.33 184.10,198.39 184.29,198.58 184.48,198.87 184.67,199.06 184.86,199.09 185.05,199.13 185.24,199.52 185.43,199.73 185.62,199.64 185.80,199.77 185.99,199.87 186.18,200.08 186.37,200.08 186.56,200.07 186.75,200.24 186.94,200.45 187.13,200.36 187.32,200.44 187.51,200.60 187.70,200.78 187.89,200.98 188.08,201.10 188.27,201.25 188.46,201.35 188.65,201.53 188.84,201.76 189.03,201.90 189.22,201.95 189.41,202.11 189.60,202.28 189.79,202.43 189.98,202.63 190.17,202.66 190.36,202.72 190.54,202.89 190.73,202.98 190.92,203.07 191.11,203.22 191.30,203.31 191.49,203.37 191.68,203.47 191.87,203.62 192.06,203.71 192.25,203.96 192.44,204.06 192.63,204.03 192.82,204.13 193.01,204.23 193.20,204.37 193.39,204.52 193.58,204.57 193.77,204.69 193.96,204.74 194.15,204.89 194.34,204.99 194.53,205.13 194.72,205.21 194.91,205.32 195.10,205.38 195.28,205.50 195.47,205.65 195.66,205.75 195.85,205.82 196.04,205.96 196.23,206.03 196.42,206.26 196.61,206.45 196.80,206.40 196.99,206.45 197.18,206.57 197.37,206.91 197.56,207.11 197.75,207.38 197.94,207.69 198.13,207.95 198.32,208.23 198.51,208.51 198.70,208.75 198.89,209.57 199.08,210.39 199.27,211.20 199.46,212.02 199.65,212.81 199.84,213.62 200.02,215.26 200.21,216.91 200.40,218.34 200.59,219.56 200.78,220.78 200.97,220.64 201.16,220.50 201.35,219.98 201.54,219.08 201.73,218.18 201.92,219.46 202.11,220.73 202.30,221.14 202.49,220.70 202.68,220.27 202.87,220.58 203.06,220.89 203.25,220.76 203.44,220.20 203.63,219.64 203.82,220.39 204.01,221.13 204.20,221.36 204.39,221.10 204.58,220.83 204.76,220.29 204.95,219.75 205.14,219.50 205.33,219.53 205.52,219.56 205.71,219.40 205.90,219.24 206.09,218.88 206.28,218.33 206.47,217.78 206.66,219.30 206.85,220.82 207.04,220.85 207.23,219.41 207.42,217.98 207.61,217.62 207.80,217.25 207.99,216.82 208.18,216.33 208.37,215.83 208.56,215.84 208.75,212.94 208.94,210.02 209.13,210.82 209.32,210.45 209.50,210.07 209.69,210.22 209.88,210.84 210.07,211.46 210.26,211.98 210.45,211.38 210.64,210.78 210.83,210.18 211.02,210.14 211.21,210.13 211.40,210.15 211.59,210.31 211.78,210.84 211.97,211.37 212.16,211.60 212.35,211.12 212.54,210.65 212.73,210.34 212.92,210.40 213.11,210.68 213.30,210.96 213.49,210.97 213.68,210.75 213.87,210.53 214.06,210.55 214.24,210.54 214.43,210.70 214.62,210.91 214.81,211.03 215.00,210.87 215.19,210.71 215.38,210.71 215.57,210.73 215.76,210.79 215.95,210.83 216.14,210.82 216.33,211.26 216.52,211.87 216.71,212.47 216.90,212.13 217.09,211.58 217.28,211.03 217.47,211.00 217.66,211.05 217.85,211.07 218.04,211.39 218.23,211.93 218.42,212.46 218.61,212.17 218.80,211.69 218.98,211.25 219.17,211.27 219.36,211.30 219.55,211.38 219.74,211.39 219.93,211.66 220.12,212.04 220.31,212.42 220.50,212.14 220.69,211.83 220.88,211.61 221.07,211.61 221.26,211.65 221.45,211.69 221.64,211.74 221.83,211.99 222.02,212.31 222.21,212.62 222.40,212.55 222.59,212.30 222.78,212.06 222.97,211.97 223.16,211.98 223.35,212.03 223.54,212.08 223.72,212.10 223.91,212.56 224.10,212.96 224.29,212.52 224.48,212.21 224.67,212.25 224.86,212.27 225.05,212.61 225.24,213.16 225.43,213.70 225.62,213.53 225.81,213.10 226.00,212.67 226.19,212.70 226.38,212.77 226.57,212.81 226.76,212.88 226.95,213.02 227.14,213.43 227.33,213.84 227.52,213.78 227.71,213.76 227.90,213.80 228.09,214.13 228.28,214.47 228.46,215.18 228.65,215.89 228.84,215.82 229.03,216.08 229.22,216.97 229.41,217.48 229.60,217.17 229.79,216.07 229.98,215.32 230.17,215.18 230.36,214.59 230.55,213.97 230.74,213.66 230.93,213.50 231.12,213.32 231.31,213.39 231.50,213.43 231.69,213.63 231.88,213.75 232.07,213.64 232.26,213.60 232.45,213.63 232.64,213.75 232.83,214.24 233.02,214.73 233.20,214.91 233.39,214.51 233.58,214.11 233.77,213.94 233.96,213.98 234.15,214.15 234.34,214.52 234.53,214.58 234.72,214.30 234.91,214.21 235.10,214.25 235.29,214.29 235.48,214.35 235.67,214.39 235.86,214.51 236.05,215.02 236.24,215.52 236.43,215.44 236.62,215.03 236.81,214.70 237.00,214.77 237.19,214.80 237.38,214.86 237.57,214.92 237.76,214.96 237.94,215.07 238.13,215.36 238.32,215.49 238.51,215.30 238.70,215.21 238.89,215.27 239.08,215.30 239.27,215.35 239.46,215.47 239.65,215.77 239.84,216.04 240.03,215.84 240.22,215.65 240.41,215.79 240.60,216.01 240.79,216.20 240.98,216.39 241.17,216.82 241.36,217.29 241.55,217.39 241.74,217.30 241.93,217.36 242.12,217.54 242.31,217.73 242.50,217.91 242.68,218.11 242.87,218.42 243.06,218.72 243.25,219.02 243.44,219.34 243.63,219.64 243.82,219.94 244.01,220.24 244.20,220.54 244.39,220.84 244.58,221.14 244.77,221.44 244.96,221.78 245.15,221.78 245.34,221.69 245.53,221.71 245.72,221.76 245.91,221.80 246.10,221.73 246.29,221.78 246.48,221.72 246.67,221.76 246.86,221.72 247.05,221.79 247.24,221.75 247.42,221.79 247.61,221.73 247.80,221.75 247.99,221.78 248.18,221.73 248.37,221.75 248.56,221.77 248.75,221.74 248.94,221.77 249.13,221.74 249.32,221.78 249.51,221.75 249.70,221.79 249.89,221.76 250.08,221.78 250.27,221.78 250.46,221.77 250.65,221.80 250.84,221.79 251.03,221.79 251.22,221.77 251.41,221.79 251.60,221.77 251.79,221.78 251.98,221.79 252.16,221.75 252.35,221.77 252.54,221.76 252.73,221.76 252.92,221.75 253.11,221.78 253.30,221.79 253.49,221.76 253.68,221.78 253.87,221.80 254.06,221.73 254.25,221.75 254.44,221.76 254.63,221.78 254.82,221.73 255.01,221.75 255.20,221.78 255.39,221.71 255.58,221.70 255.77,221.70 255.96,221.71 256.15,221.73 256.34,221.76 256.53,221.72 256.72,221.77 256.90,221.68 257.09,221.62 257.28,221.58 257.47,221.53 257.66,221.50 257.85,221.46 258.04,221.44 258.23,221.41 258.42,221.40 258.61,221.36 258.80,221.29 258.99,221.23 259.18,221.15 259.37,221.08 259.56,221.00 259.75,220.92 259.94,220.83 260.13,220.76 260.32,220.69 260.51,220.61 260.70,220.55 260.89,220.56 261.08,220.58 261.27,220.60 261.46,220.62 261.64,220.65 261.83,220.67 262.02,220.71 262.21,220.74 262.40,220.78 262.59,220.82 262.78,220.75 262.97,220.65 263.16,220.55 263.35,220.45 263.54,220.34 263.73,220.24 263.92,220.12 264.11,220.01 264.30,219.89 264.49,219.77 264.68,219.77 264.87,219.84 265.06,219.91 265.25,219.99 265.44,220.06 265.63,220.15 265.82,220.23 266.01,220.32 266.20,220.42 266.38,220.40 266.57,220.27 266.76,220.15 266.95,220.02 267.14,219.89 267.33,219.75 267.52,219.61 267.71,219.47 267.90,219.33 268.09,219.18 268.28,219.03 268.47,219.02 268.66,219.11 268.85,219.20 269.04,219.30 269.23,219.40 269.42,219.50 269.61,219.61 269.80,219.72 269.99,219.84 270.18,219.86 270.37,219.72 270.56,219.57 270.75,219.42 270.94,219.25 271.12,219.08 271.31,218.90 271.50,218.72 271.69,218.54 271.88,218.35 272.07,218.16 272.26,218.05 272.45,218.15 272.64,218.25 272.83,218.36 273.02,218.47 273.21,218.59 273.40,217.73 273.59,217.99 273.78,217.88 273.97,217.77 274.16,217.69 274.35,217.68 274.54,217.68 274.73,217.66 274.92,217.71 275.11,217.80 275.30,217.90 275.49,217.88 275.68,217.77 275.86,217.66 276.05,217.60 276.24,217.58 276.43,217.60 276.62,217.61 276.81,217.64 277.00,217.67 277.19,217.65 277.38,217.64 277.57,217.62 277.76,217.61 277.95,217.62 278.14,217.63 278.33,217.64 278.52,217.64 278.71,217.64 278.90,217.68 279.09,217.72 279.28,217.73 279.47,217.70 279.66,217.67 279.85,217.69 280.04,217.68 280.23,217.69 280.42,217.70 280.60,217.77 280.79,217.90 280.98,217.97 281.17,217.86 281.36,217.74 281.55,217.74 281.74,217.75 281.93,217.74 282.12,217.76 282.31,217.80 282.50,217.84 282.69,217.88 282.88,217.90 283.07,217.87 283.26,217.84 283.45,217.82 283.64,217.83 283.83,217.84 284.02,217.85 284.21,217.87 284.40,217.88 284.59,217.90 284.78,217.94 284.97,218.02 285.16,218.09 285.34,218.07 285.53,218.02 285.72,217.99 285.91,218.00 286.10,218.02 286.29,218.04 286.48,218.04 286.67,218.06 286.86,218.08 287.05,218.12 287.24,218.16 287.43,218.17 287.62,218.16 287.81,218.16 288.00,218.17 288.19,218.18 288.38,218.18 288.57,218.17 288.76,218.18 288.95,218.17 289.14,218.25 289.33,218.36 289.52,218.46 289.71,218.35 289.90,218.24 290.08,218.17 290.27,218.17 290.46,218.16 290.65,218.18 290.84,218.21 291.03,218.23 291.22,218.26 291.41,218.23 291.60,218.20 291.79,218.17 291.98,218.16 292.17,218.15 292.36,218.16" fill="none" stroke="#5cc83a" stroke-width="0.9" stroke-opacity="0.9" stroke-linejoin="round"/>
<polyline points="42.09,221.80 42.28,221.80 42.47,221.80 42.66,221.80 42.85,221.80 43.04,221.80 43.23,221.80 43.42,221.80 43.60,221.80 43.79,221.80 43.98,221.80 44.17,221.80 44.36,221.80 44.55,221.80 44.74,221.80 44.93,221.80 45.12,221.80 45.31,221.80 45.50,221.80 45.69,221.39 45.88,220.98 46.07,220.56 46.26,220.15 46.45,219.74 46.64,218.71 46.83,217.68 47.02,216.65 47.21,215.64 47.40,214.60 47.59,213.23 47.78,211.85 47.97,210.47 48.16,209.08 48.34,207.72 48.53,206.38 48.72,205.06 48.91,204.28 49.10,202.47 49.29,201.53 49.48,201.06 49.67,199.89 49.86,197.77 50.05,196.29 50.24,196.72 50.43,195.99 50.62,193.12 50.81,191.62 51.00,192.42 51.19,190.25 51.38,186.25 51.57,183.50 51.76,183.11 51.95,182.10 52.14,176.88 52.33,175.42 52.52,175.14 52.71,175.02 52.90,176.16 53.08,178.28 53.27,176.83 53.46,174.22 53.65,176.28 53.84,181.34 54.03,180.03 54.22,174.49 54.41,172.75 54.60,176.67 54.79,182.90 54.98,177.30 55.17,166.57 55.36,163.91 55.55,162.92 55.74,162.15 55.93,164.21 56.12,165.04 56.31,161.17 56.50,160.48 56.69,162.50 56.88,160.61 57.07,158.33 57.26,157.90 57.45,164.23 57.64,166.14 57.82,155.73 58.01,154.65 58.20,153.32 58.39,152.04 58.58,154.27 58.77,154.30 58.96,149.75 59.15,154.21 59.34,164.12 59.53,160.41 59.72,148.65 59.91,145.63 60.10,144.45 60.29,144.49 60.48,148.68 60.67,148.90 60.86,142.07 61.05,139.68 61.24,139.97 61.43,142.55 61.62,152.91 61.81,155.84 62.00,146.27 62.19,138.70 62.38,149.69 62.56,149.22 62.75,130.90 62.94,130.82 63.13,137.07 63.32,151.81 63.51,159.93 63.70,153.31 63.89,140.67 64.08,152.46 64.27,158.42 64.46,149.27 64.65,133.03 64.84,121.56 65.03,119.15 65.22,115.53 65.41,113.41 65.60,113.43 65.79,118.75 65.98,124.25 66.17,118.33 66.36,115.27 66.55,123.95 66.74,128.34 66.93,122.40 67.12,111.87 67.30,104.74 67.49,101.94 67.68,102.65 67.87,104.06 68.06,103.30 68.25,100.41 68.44,98.21 68.63,97.23 68.82,96.24 69.01,95.26 69.20,94.58 69.39,93.43 69.58,92.79 69.77,105.75 69.96,111.57 70.15,95.82 70.34,102.76 70.53,118.43 70.72,126.34 70.91,116.16 71.10,101.17 71.29,85.71 71.48,80.22 71.67,78.12 71.86,75.44 72.04,72.59 72.23,69.75 72.42,67.09 72.61,65.76 72.80,65.41 72.99,65.08 73.18,64.78 73.37,64.52 73.56,64.28 73.75,62.11 73.94,59.91 74.13,57.69 74.32,55.46 74.51,53.62 74.70,52.88 74.89,56.79 75.08,60.71 75.27,64.63 75.46,68.56 75.65,72.50 75.84,68.04 76.03,63.13 76.22,58.20 76.41,53.25 76.60,51.66 76.78,56.85 76.97,62.06 77.16,67.28 77.35,69.64 77.54,65.59 77.73,61.53 77.92,57.46 78.11,53.37 78.30,49.47 78.49,47.80 78.68,49.98 78.87,52.15 79.06,54.32 79.25,56.50 79.44,58.68 79.63,55.50 79.82,51.63 80.01,47.76 80.20,47.26 80.39,49.79 80.58,52.34 80.77,54.88 80.96,73.52 81.15,89.27 81.34,73.31 81.52,52.31 81.71,45.82 81.90,51.22 82.09,56.62 82.28,62.04 82.47,63.24 82.66,55.51 82.85,48.93 83.04,46.87 83.23,48.80 83.42,49.94 83.61,51.96 83.80,53.96 83.99,53.32 84.18,51.39 84.37,49.46 84.56,50.92 84.75,50.63 84.94,54.19 85.13,57.75 85.32,61.31 85.51,64.87 85.70,68.42 85.89,65.75 86.08,59.43 86.26,53.13 86.45,49.74 86.64,56.07 86.83,76.74 87.02,92.46 87.21,77.24 87.40,58.35 87.59,55.78 87.78,53.20 87.97,52.09 88.16,52.04 88.35,52.73 88.54,54.80 88.73,64.50 88.92,73.60 89.11,63.94 89.30,58.06 89.49,52.97 89.68,48.72 89.87,49.82 90.06,52.30 90.25,55.30 90.44,58.28 90.63,61.26 90.82,64.22 91.00,63.37 91.19,59.22 91.38,55.09 91.57,52.00 91.76,54.56 91.95,57.96 92.14,61.34 92.33,64.45 92.52,67.56 92.71,65.08 92.90,61.35 93.09,57.62 93.28,57.37 93.47,55.35 93.66,57.73 93.85,60.11 94.04,62.15 94.23,60.15 94.42,58.16 94.61,56.18 94.80,58.36 94.99,65.44 95.18,72.50 95.37,71.59 95.56,67.72 95.74,63.86 95.93,60.01 96.12,66.63 96.31,65.21 96.50,63.88 96.69,62.68 96.88,61.63 97.07,60.56 97.26,59.66 97.45,58.94 97.64,58.39 97.83,58.47 98.02,58.90 98.21,61.75 98.40,59.43 98.59,62.30 98.78,60.22 98.97,58.41 99.16,59.34 99.35,58.89 99.54,59.53 99.73,62.29 99.92,62.33 100.11,64.47 100.30,66.75 100.48,77.81 100.67,87.30 100.86,78.85 101.05,71.82 101.24,70.60 101.43,69.46 101.62,68.45 101.81,67.56 102.00,66.80 102.19,66.29 102.38,68.30 102.57,67.44 102.76,65.21 102.95,65.73 103.14,65.44 103.33,65.44 103.52,65.71 103.71,65.41 103.90,68.86 104.09,68.15 104.28,68.44 104.47,67.70 104.66,67.18 104.85,67.96 105.04,68.86 105.22,69.89 105.41,71.03 105.60,72.28 105.79,73.63 105.98,75.05 106.17,72.73 106.36,71.92 106.55,71.18 106.74,70.52 106.93,69.95 107.12,69.43 107.31,69.02 107.50,69.01 107.69,70.93 107.88,72.64 108.07,70.33 108.26,68.73 108.45,69.06 108.64,71.23 108.83,72.07 109.02,70.54 109.21,69.52 109.40,69.98 109.59,71.23 109.78,72.42 109.96,72.14 110.15,73.14 110.34,74.22 110.53,75.37 110.72,77.40 110.91,76.36 111.10,75.41 111.29,74.57 111.48,73.87 111.67,74.37 111.86,73.91 112.05,72.65 112.24,72.88 112.43,74.00 112.62,74.99 112.81,74.18 113.00,76.76 113.19,87.42 113.38,95.53 113.57,87.65 113.76,77.26 113.95,75.07 114.14,75.89 114.33,76.84 114.52,77.94 114.70,79.15 114.89,80.45 115.08,80.90 115.27,79.75 115.46,78.70 115.65,77.77 115.84,77.00 116.03,78.10 116.22,77.23 116.41,77.19 116.60,77.18 116.79,78.14 116.98,77.57 117.17,80.79 117.36,80.63 117.55,79.40 117.74,79.52 117.93,82.29 118.12,81.45 118.31,82.65 118.50,84.00 118.69,85.47 118.88,100.70 119.07,121.15 119.26,133.21 119.44,124.86 119.63,109.31 119.82,99.41 120.01,96.16 120.20,105.74 120.39,102.17 120.58,98.78 120.77,95.65 120.96,92.84 121.15,90.38 121.34,91.06 121.53,89.45 121.72,90.19 121.91,89.28 122.10,88.98 122.29,88.37 122.48,89.23 122.67,90.62 122.86,92.39 123.05,94.53 123.24,96.98 123.43,99.67 123.62,96.95 123.81,95.85 124.00,94.88 124.18,94.08 124.37,94.53 124.56,97.26 124.75,105.36 124.94,115.64 125.13,125.05 125.32,129.68 125.51,127.86 125.70,119.47 125.89,110.37 126.08,103.45 126.27,99.32 126.46,98.02 126.65,97.98 126.84,98.89 127.03,99.96 127.22,101.18 127.41,102.51 127.60,103.54 127.79,101.95 127.98,100.48 128.17,99.26 128.36,98.19 128.55,97.47 128.74,96.58 128.92,96.28 129.11,97.07 129.30,97.33 129.49,97.99 129.68,97.69 129.87,96.97 130.06,97.47 130.25,95.72 130.44,97.44 130.63,96.79 130.82,97.67 131.01,98.72 131.20,99.95 131.39,101.33 131.58,102.86 131.77,104.51 131.96,106.25 132.15,106.55 132.34,105.38 132.53,100.35 132.72,129.65 132.91,161.20 133.10,183.97 133.29,206.72 133.48,194.88 133.66,183.44 133.85,171.41 134.04,158.08 134.23,144.02 134.42,130.72 134.61,121.74 134.80,118.63 134.99,115.54 135.18,112.50 135.37,109.53 135.56,107.50 135.75,103.86 135.94,103.61 136.13,103.98 136.32,104.22 136.51,104.57 136.70,104.09 136.89,104.49 137.08,105.13 137.27,106.80 137.46,105.67 137.65,105.71 137.84,106.37 138.03,107.17 138.22,108.09 138.40,109.13 138.59,110.29 138.78,111.54 138.97,112.89 139.16,112.52 139.35,112.12 139.54,111.76 139.73,111.44 139.92,111.16 140.11,110.93 140.30,110.75 140.49,110.80 140.68,111.44 140.87,111.74 141.06,111.50 141.25,110.80 141.44,111.26 141.63,112.28 141.82,113.11 142.01,112.88 142.20,113.11 142.39,114.87 142.58,113.31 142.77,113.81 142.96,115.31 143.14,119.14 143.33,118.03 143.52,119.56 143.71,121.14 143.90,121.96 144.09,124.55 144.28,129.02 144.47,134.93 144.66,140.40 144.85,142.18 145.04,139.79 145.23,134.39 145.42,128.57 145.61,125.88 145.80,124.70 145.99,123.57 146.18,122.74 146.37,121.98 146.56,121.31 146.75,121.12 146.94,120.19 147.13,119.94 147.32,119.83 147.51,119.89 147.70,119.26 147.88,118.84 148.07,118.85 148.26,118.80 148.45,118.88 148.64,120.78 148.83,119.59 149.02,120.10 149.21,120.94 149.40,121.35 149.59,122.09 149.78,122.91 149.97,123.81 150.16,124.78 150.35,125.42 150.54,126.12 150.73,126.87 150.92,127.67 151.11,126.33 151.30,125.29 151.49,124.31 151.68,123.41 151.87,122.59 152.06,121.87 152.25,121.33 152.44,120.72 152.62,122.56 152.81,120.88 153.00,121.91 153.19,121.30 153.38,123.54 153.57,121.65 153.76,122.26 153.95,124.07 154.14,124.53 154.33,124.72 154.52,124.49 154.71,124.15 154.90,124.93 155.09,125.79 155.28,126.75 155.47,127.78 155.66,129.02 155.85,130.30 156.04,129.03 156.23,128.86 156.42,128.71 156.61,128.61 156.80,128.54 156.99,128.51 157.18,128.53 157.36,129.59 157.55,129.55 157.74,128.93 157.93,130.65 158.12,131.66 158.31,130.99 158.50,130.86 158.69,133.32 158.88,133.90 159.07,132.75 159.26,133.35 159.45,135.57 159.64,135.33 159.83,134.93 160.02,136.17 160.21,136.03 160.40,138.07 160.59,136.49 160.78,137.16 160.97,137.35 161.16,137.75 161.35,137.86 161.54,145.25 161.73,152.52 161.92,159.45 162.10,152.80 162.29,146.29 162.48,139.64 162.67,139.81 162.86,145.08 163.05,150.16 163.24,145.65 163.43,140.87 163.62,141.29 163.81,141.51 164.00,144.69 164.19,147.73 164.38,150.98 164.57,154.12 164.76,157.19 164.95,160.25 165.14,177.07 165.33,193.88 165.52,198.97 165.71,192.32 165.90,185.68 166.09,187.11 166.28,188.55 166.47,190.03 166.66,191.58 166.84,193.12 167.03,197.01 167.22,200.89 167.41,201.53 167.60,198.92 167.79,196.31 167.98,198.16 168.17,200.01 168.36,201.93 168.55,203.93 168.74,205.92 168.93,204.39 169.12,202.85 169.31,203.41 169.50,206.05 169.69,208.69 169.88,200.69 170.07,192.69 170.26,189.37 170.45,190.75 170.64,192.13 170.83,186.65 171.02,181.17 171.21,182.56 171.40,190.84 171.58,199.12 171.77,183.58 171.96,168.03 172.15,160.26 172.34,162.47 172.53,164.52 172.72,156.93 172.91,148.68 173.10,148.76 173.29,148.71 173.48,148.25 173.67,147.78 173.86,147.72 174.05,147.64 174.24,147.56 174.43,147.36 174.62,146.87 174.81,146.76 175.00,147.73 175.19,147.34 175.38,146.25 175.57,146.08 175.76,146.38 175.95,146.39 176.14,145.71 176.32,145.09 176.51,145.04 176.70,144.91 176.89,144.93 177.08,145.14 177.27,144.87 177.46,144.87 177.65,144.93 177.84,145.07 178.03,145.26 178.22,145.57 178.41,145.44 178.60,145.41 178.79,145.73 178.98,145.87 179.17,146.29 179.36,146.74 179.55,146.47 179.74,146.27 179.93,146.39 180.12,146.80 180.31,147.32 180.50,146.83 180.69,146.48 180.88,146.66 181.06,147.24 181.25,147.36 181.44,146.73 181.63,146.69 181.82,146.96 182.01,147.38 182.20,147.54 182.39,147.53 182.58,147.86 182.77,148.87 182.96,148.91 183.15,148.44 183.34,148.50 183.53,148.95 183.72,149.45 183.91,149.61 184.10,149.52 184.29,149.79 184.48,150.42 184.67,150.72 184.86,150.51 185.05,150.35 185.24,151.32 185.43,151.69 185.62,151.17 185.80,151.31 185.99,151.36 186.18,151.77 186.37,151.48 186.56,151.19 186.75,151.47 186.94,151.87 187.13,151.32 187.32,151.29 187.51,151.56 187.70,151.89 187.89,152.27 188.08,152.38 188.27,152.61 188.46,152.67 188.65,153.02 188.84,153.52 189.03,153.70 189.22,153.63 189.41,153.89 189.60,154.21 189.79,154.44 189.98,154.86 190.17,154.83 190.36,154.91 190.54,155.36 190.73,155.51 190.92,155.71 191.11,156.08 191.30,156.26 191.49,156.34 191.68,156.56 191.87,156.95 192.06,157.13 192.25,157.88 192.44,158.08 192.63,157.83 192.82,158.08 193.01,158.30 193.20,158.65 193.39,159.06 193.58,159.09 193.77,159.42 193.96,159.45 194.15,159.86 194.34,160.08 194.53,160.45 194.72,160.62 194.91,160.90 195.10,160.99 195.28,161.31 195.47,161.73 195.66,161.94 195.85,162.06 196.04,162.46 196.23,162.59 196.42,163.32 196.61,163.91 196.80,163.60 196.99,163.65 197.18,163.98 197.37,165.14 197.56,165.74 197.75,166.67 197.94,167.77 198.13,168.68 198.32,169.65 198.51,170.63 198.70,171.46 198.89,174.53 199.08,177.60 199.27,180.67 199.46,183.80 199.65,186.80 199.84,189.86 200.02,196.24 200.21,202.63 200.40,208.21 200.59,212.99 200.78,217.78 200.97,217.21 201.16,216.65 201.35,214.57 201.54,210.99 201.73,207.40 201.92,212.46 202.11,217.52 202.30,219.17 202.49,217.41 202.68,215.65 202.87,216.89 203.06,218.13 203.25,217.61 203.44,215.33 203.63,213.05 203.82,216.06 204.01,219.07 204.20,220.02 204.39,218.92 204.58,217.82 204.76,215.59 204.95,213.37 205.14,212.32 205.33,212.43 205.52,212.54 205.71,211.85 205.90,211.16 206.09,209.65 206.28,207.33 206.47,205.02 206.66,211.34 206.85,217.67 207.04,217.80 207.23,211.74 207.42,205.68 207.61,204.10 207.80,202.52 207.99,200.65 208.18,198.50 208.37,196.34 208.56,196.34 208.75,183.84 208.94,171.25 209.13,174.58 209.32,172.86 209.50,171.14 209.69,171.66 209.88,174.26 210.07,176.86 210.26,179.05 210.45,176.34 210.64,173.61 210.83,170.89 211.02,170.59 211.21,170.42 211.40,170.43 211.59,170.99 211.78,173.25 211.97,175.50 212.16,176.44 212.35,174.21 212.54,171.98 212.73,170.48 212.92,170.67 213.11,171.81 213.30,172.95 213.49,172.91 213.68,171.79 213.87,170.67 214.06,170.69 214.24,170.53 214.43,171.13 214.62,171.98 214.81,172.40 215.00,171.58 215.19,170.75 215.38,170.61 215.57,170.59 215.76,170.77 215.95,170.81 216.14,170.67 216.33,172.62 216.52,175.34 216.71,178.06 216.90,176.36 217.09,173.66 217.28,170.96 217.47,170.73 217.66,170.85 217.85,170.82 218.04,172.20 218.23,174.67 218.42,177.14 218.61,175.64 218.80,173.23 218.98,170.99 219.17,170.96 219.36,171.00 219.55,171.24 219.74,171.21 219.93,172.37 220.12,174.12 220.31,175.87 220.50,174.42 220.69,172.77 220.88,171.57 221.07,171.46 221.26,171.51 221.45,171.61 221.64,171.75 221.83,172.88 222.02,174.33 222.21,175.78 222.40,175.33 222.59,173.98 222.78,172.63 222.97,172.06 223.16,172.01 223.35,172.12 223.54,172.27 223.72,172.23 223.91,174.46 224.10,176.43 224.29,174.07 224.48,172.33 224.67,172.42 224.86,172.42 225.05,174.07 225.24,176.80 225.43,179.52 225.62,178.52 225.81,176.12 226.00,173.75 226.19,173.86 226.38,174.15 226.57,174.34 226.76,174.61 226.95,175.31 227.14,177.43 227.33,179.52 227.52,179.19 227.71,179.02 227.90,179.13 228.09,180.89 228.28,182.65 228.46,186.39 228.65,190.11 228.84,189.71 229.03,191.05 229.22,195.80 229.41,198.51 229.60,196.80 229.79,190.84 229.98,186.78 230.17,185.92 230.36,182.71 230.55,179.30 230.74,177.52 230.93,176.60 231.12,175.57 231.31,175.90 231.50,176.03 231.69,177.07 231.88,177.67 232.07,176.99 232.26,176.73 232.45,176.86 232.64,177.42 232.83,180.08 233.02,182.73 233.20,183.68 233.39,181.38 233.58,179.11 233.77,178.13 233.96,178.30 234.15,179.16 234.34,181.17 234.53,181.46 234.72,179.82 234.91,179.29 235.10,179.47 235.29,179.62 235.48,179.88 235.67,180.05 235.86,180.66 236.05,183.50 236.24,186.30 236.43,185.76 236.62,183.41 236.81,181.47 237.00,181.80 237.19,181.95 237.38,182.21 237.57,182.50 237.76,182.70 237.94,183.27 238.13,184.88 238.32,185.55 238.51,184.41 238.70,183.83 238.89,184.16 239.08,184.26 239.27,184.51 239.46,185.16 239.65,186.81 239.84,188.33 240.03,187.15 240.22,185.99 240.41,186.78 240.60,187.97 240.79,189.05 240.98,190.11 241.17,192.60 241.36,195.29 241.55,195.85 241.74,195.32 241.93,195.59 242.12,196.63 242.31,197.74 242.50,198.79 242.68,199.92 242.87,201.73 243.06,203.51 243.25,205.27 243.44,207.10 243.63,208.87 243.82,210.65 244.01,212.44 244.20,214.24 244.39,216.02 244.58,217.82 244.77,219.61 244.96,221.70 245.15,221.69 245.34,221.15 245.53,221.28 245.72,221.54 245.91,221.78 246.10,221.38 246.29,221.70 246.48,221.29 246.67,221.54 246.86,221.30 247.05,221.71 247.24,221.48 247.42,221.72 247.61,221.38 247.80,221.49 247.99,221.65 248.18,221.36 248.37,221.48 248.56,221.63 248.75,221.45 248.94,221.62 249.13,221.45 249.32,221.67 249.51,221.47 249.70,221.76 249.89,221.56 250.08,221.69 250.27,221.65 250.46,221.60 250.65,221.78 250.84,221.72 251.03,221.76 251.22,221.59 251.41,221.72 251.60,221.64 251.79,221.68 251.98,221.71 252.16,221.50 252.35,221.61 252.54,221.56 252.73,221.53 252.92,221.49 253.11,221.67 253.30,221.75 253.49,221.57 253.68,221.69 253.87,221.78 254.06,221.36 254.25,221.46 254.44,221.55 254.63,221.69 254.82,221.35 255.01,221.45 255.20,221.65 255.39,221.18 255.58,221.18 255.77,221.17 255.96,221.20 256.15,221.36 256.34,221.51 256.53,221.25 256.72,221.62 256.90,220.99 257.09,220.64 257.28,220.33 257.47,220.04 257.66,219.79 257.85,219.58 258.04,219.40 258.23,219.25 258.42,219.14 258.61,218.86 258.80,218.44 258.99,217.99 259.18,217.52 259.37,217.02 259.56,216.49 259.75,215.94 259.94,215.37 260.13,214.88 260.32,214.38 260.51,213.86 260.70,213.45 260.89,213.53 261.08,213.63 261.27,213.75 261.46,213.89 261.64,214.05 261.83,214.24 262.02,214.45 262.21,214.68 262.40,214.94 262.59,215.21 262.78,214.69 262.97,214.04 263.16,213.37 263.35,212.67 263.54,211.95 263.73,211.21 263.92,210.44 264.11,209.65 264.30,208.84 264.49,208.02 264.68,208.01 264.87,208.45 265.06,208.93 265.25,209.43 265.44,209.96 265.63,210.51 265.82,211.09 266.01,211.70 266.20,212.33 266.38,212.19 266.57,211.33 266.76,210.46 266.95,209.56 267.14,208.64 267.33,207.69 267.52,206.73 267.71,205.74 267.90,204.73 268.09,203.69 268.28,202.64 268.47,202.57 268.66,203.17 268.85,203.80 269.04,204.46 269.23,205.14 269.42,205.85 269.61,206.59 269.80,207.35 269.99,208.15 270.18,208.29 270.37,207.26 270.56,206.21 270.75,205.13 270.94,203.95 271.12,202.73 271.31,201.49 271.50,200.21 271.69,198.90 271.88,197.57 272.07,196.20 272.26,195.40 272.45,196.07 272.64,196.77 272.83,197.51 273.02,198.29 273.21,199.09 273.40,193.01 273.59,194.80 273.78,193.99 273.97,193.17 274.16,192.63 274.35,192.53 274.54,192.49 274.73,192.32 274.92,192.66 275.11,193.30 275.30,193.95 275.49,193.80 275.68,192.97 275.86,192.15 276.05,191.68 276.24,191.57 276.43,191.62 276.62,191.70 276.81,191.88 277.00,192.06 277.19,191.92 277.38,191.78 277.57,191.63 277.76,191.51 277.95,191.58 278.14,191.63 278.33,191.64 278.52,191.66 278.71,191.61 278.90,191.88 279.09,192.15 279.28,192.19 279.47,191.95 279.66,191.71 279.85,191.83 280.04,191.75 280.23,191.80 280.42,191.84 280.60,192.30 280.79,193.19 280.98,193.70 281.17,192.85 281.36,192.00 281.55,191.97 281.74,192.02 281.93,191.93 282.12,192.04 282.31,192.28 282.50,192.55 282.69,192.82 282.88,192.92 283.07,192.69 283.26,192.45 283.45,192.28 283.64,192.31 283.83,192.36 284.02,192.44 284.21,192.52 284.40,192.62 284.59,192.67 284.78,192.97 284.97,193.51 285.16,194.05 285.34,193.88 285.53,193.50 285.72,193.24 285.91,193.26 286.10,193.38 286.29,193.49 286.48,193.52 286.67,193.62 286.86,193.76 287.05,194.01 287.24,194.27 287.43,194.36 287.62,194.27 287.81,194.19 288.00,194.23 288.19,194.30 288.38,194.29 288.57,194.20 288.76,194.20 288.95,194.12 289.14,194.74 289.33,195.56 289.52,196.29 289.71,195.41 289.90,194.52 290.08,193.98 290.27,193.93 290.46,193.86 290.65,193.97 290.84,194.16 291.03,194.34 291.22,194.53 291.41,194.27 291.60,194.02 291.79,193.76 291.98,193.63 292.17,193.57 292.36,193.57" fill="none" stroke="#7a9030" stroke-width="0.9" stroke-opacity="0.9" stroke-linejoin="round"/></g>
<text x="1.0" y="17.3" font-size="13.8" font-weight="bold" textLength="19.0" lengthAdjust="spacingAndGlyphs">(A)</text><line x1="42.3" y1="15" x2="42.3" y2="222.3" stroke="#5a5a5a" stroke-width="1"/><line x1="38.2" y1="221.8" x2="293" y2="221.8" stroke="#5a5a5a" stroke-width="1"/><line x1="38.3" y1="161.15" x2="42.3" y2="161.15" stroke="#5a5a5a" stroke-width="1"/><line x1="38.3" y1="100.50" x2="42.3" y2="100.50" stroke="#5a5a5a" stroke-width="1"/><line x1="38.3" y1="39.85" x2="42.3" y2="39.85" stroke="#5a5a5a" stroke-width="1"/><line x1="40.3" y1="191.48" x2="42.3" y2="191.48" stroke="#5a5a5a" stroke-width="1"/><line x1="40.3" y1="130.83" x2="42.3" y2="130.83" stroke="#5a5a5a" stroke-width="1"/><line x1="40.3" y1="70.18" x2="42.3" y2="70.18" stroke="#5a5a5a" stroke-width="1"/><text x="35.4" y="224.40" font-size="9.6" text-anchor="end" fill="#222">0</text><text x="35.4" y="163.75" font-size="9.6" text-anchor="end" fill="#222">0.5</text><text x="35.4" y="103.10" font-size="9.6" text-anchor="end" fill="#222">1</text><text x="35.4" y="42.45" font-size="9.6" text-anchor="end" fill="#222">1.5</text><line x1="83.80" y1="221.8" x2="83.80" y2="225.8" stroke="#5a5a5a" stroke-width="1"/><text x="83.90" y="236.4" font-size="9.5" text-anchor="middle" fill="#222">500</text><line x1="178.60" y1="221.8" x2="178.60" y2="225.8" stroke="#5a5a5a" stroke-width="1"/><text x="178.70" y="236.4" font-size="9.5" text-anchor="middle" fill="#222">1000</text><line x1="273.40" y1="221.8" x2="273.40" y2="225.8" stroke="#5a5a5a" stroke-width="1"/><text x="273.50" y="236.4" font-size="9.5" text-anchor="middle" fill="#222">1500</text><line x1="131.20" y1="221.8" x2="131.20" y2="223.8" stroke="#5a5a5a" stroke-width="1"/><line x1="226.00" y1="221.8" x2="226.00" y2="223.8" stroke="#5a5a5a" stroke-width="1"/><text x="118.6" y="246.4" font-size="9.4" font-weight="bold" textLength="81.0" lengthAdjust="spacingAndGlyphs">Wavelength (nm)</text><text transform="translate(17.3,118.5) rotate(-90)" font-size="10.3" font-weight="bold" text-anchor="middle">Spectral Irradiance (W m<tspan font-size="7" dy="-3.5">-2</tspan><tspan dy="3.5"> nm</tspan><tspan font-size="7" dy="-3.5">-1</tspan><tspan dy="3.5">)</tspan></text>
<line x1="171.8" y1="19.5" x2="192.7" y2="19.5" stroke="#000" stroke-width="1.5"/><text x="195.1" y="22.3" font-size="9" font-weight="bold" textLength="91.6" lengthAdjust="spacingAndGlyphs">Solar apectrum AM1.5</text><text x="172.6" y="33.1" font-size="9" font-weight="bold" textLength="128.9" lengthAdjust="spacingAndGlyphs">Sunlight conversion efficiency:</text><line x1="171.8" y1="41.6" x2="192.7" y2="41.6" stroke="#98a83c" stroke-width="1.1"/><text x="195.1" y="44.6" font-size="9" font-weight="bold" textLength="97.9" lengthAdjust="spacingAndGlyphs">Au NCs (LFL @ 532 nm)</text><line x1="171.8" y1="52.3" x2="192.7" y2="52.3" stroke="#80d860" stroke-width="1.1"/><text x="195.1" y="55.5" font-size="9" font-weight="bold" textLength="97.9" lengthAdjust="spacingAndGlyphs">Au NCs (LFL @ 355 nm)</text><line x1="171.8" y1="63.3" x2="192.7" y2="63.3" stroke="#f5b46a" stroke-width="1.1"/><text x="195.1" y="66.0" font-size="9" font-weight="bold" textLength="42.4" lengthAdjust="spacingAndGlyphs">AuAg NCs</text><line x1="171.8" y1="74.3" x2="192.7" y2="74.3" stroke="#ee5a3c" stroke-width="1.1"/><line x1="171.8" y1="87.4" x2="192.7" y2="87.4" stroke="#5ab4ea" stroke-width="1.1"/><text x="195.1" y="90.1" font-size="9" font-weight="bold" textLength="31.1" lengthAdjust="spacingAndGlyphs">Ag NCs</text><text x="195.1" y="77.1" font-size="9" font-weight="bold"><tspan textLength="23.0" lengthAdjust="spacingAndGlyphs">AuAg</tspan><tspan font-size="6.3" dy="2.4">3</tspan><tspan dy="-2.4" textLength="19.3" lengthAdjust="spacingAndGlyphs"> NCs</tspan></text>
<text x="334.2" y="17.3" font-size="13.8" font-weight="bold" textLength="18.4" lengthAdjust="spacingAndGlyphs">(B)</text><polygon points="454.60,111.20 472.96,124.54 465.94,146.11 443.26,146.11 436.24,124.54" fill="none" stroke="#c8c8c8" stroke-width="0.8"/><polygon points="454.60,91.90 491.31,118.57 477.29,161.73 431.91,161.73 417.89,118.57" fill="none" stroke="#c8c8c8" stroke-width="0.8"/><polygon points="454.60,72.60 509.67,112.61 488.63,177.34 420.57,177.34 399.53,112.61" fill="none" stroke="#c8c8c8" stroke-width="0.8"/><polygon points="454.60,53.30 528.02,106.64 499.98,192.96 409.22,192.96 381.18,106.64" fill="none" stroke="#c8c8c8" stroke-width="0.8"/><polygon points="454.60,34.00 546.38,100.68 511.32,208.57 397.88,208.57 362.82,100.68" fill="none" stroke="#c8c8c8" stroke-width="0.8"/><line x1="454.6" y1="130.5" x2="454.60" y2="34.00" stroke="#a8a8a8" stroke-width="0.9"/><line x1="454.6" y1="130.5" x2="550.97" y2="99.19" stroke="#555" stroke-width="0.9"/><line x1="454.6" y1="130.5" x2="514.16" y2="212.47" stroke="#555" stroke-width="0.9"/><line x1="454.6" y1="130.5" x2="395.04" y2="212.47" stroke="#555" stroke-width="0.9"/><line x1="454.6" y1="130.5" x2="358.23" y2="99.19" stroke="#555" stroke-width="0.9"/><text x="452.8" y="133.70" font-size="9" text-anchor="end" fill="#333">0</text><text x="452.8" y="114.40" font-size="9" text-anchor="end" fill="#333">2</text><text x="452.8" y="95.10" font-size="9" text-anchor="end" fill="#333">4</text><text x="452.8" y="75.80" font-size="9" text-anchor="end" fill="#333">6</text><text x="452.8" y="56.50" font-size="9" text-anchor="end" fill="#333">8</text><text x="452.8" y="37.20" font-size="9" text-anchor="end" fill="#333">10</text><polygon points="454.80,105.90 500.90,115.60 511.50,208.80 398.20,208.80 454.70,130.50" fill="none" stroke="#e8b00a" stroke-width="2.2" stroke-linejoin="round"/><polygon points="454.60,34.20 544.80,101.20 507.80,201.20 402.20,203.90 363.20,100.50" fill="none" stroke="#fa8c1e" stroke-width="2.6" stroke-linejoin="round"/><polygon points="454.60,36.40 539.70,103.40 503.90,197.90 419.30,179.30 375.60,104.90" fill="none" stroke="#6e8b1d" stroke-width="2.7" stroke-linejoin="round"/><rect x="451.40" y="102.60" width="6.8" height="6.6" fill="#e8b00a"/><rect x="497.50" y="112.30" width="6.8" height="6.6" fill="#e8b00a"/><rect x="508.10" y="205.50" width="6.8" height="6.6" fill="#e8b00a"/><rect x="394.80" y="205.50" width="6.8" height="6.6" fill="#e8b00a"/><rect x="451.30" y="127.20" width="6.8" height="6.6" fill="#e8b00a"/><polygon points="454.60,30.20 458.30,36.90 450.90,36.90" fill="#fa8c1e"/><polygon points="544.80,97.20 548.50,103.90 541.10,103.90" fill="#fa8c1e"/><polygon points="507.80,197.20 511.50,203.90 504.10,203.90" fill="#fa8c1e"/><polygon points="402.20,199.90 405.90,206.60 398.50,206.60" fill="#fa8c1e"/><polygon points="363.20,96.50 366.90,103.20 359.50,103.20" fill="#fa8c1e"/><circle cx="454.6" cy="36.4" r="3.7" fill="#6e8b1d"/><circle cx="539.7" cy="103.4" r="3.7" fill="#6e8b1d"/><circle cx="503.9" cy="197.9" r="3.7" fill="#6e8b1d"/><circle cx="419.3" cy="179.3" r="3.7" fill="#6e8b1d"/><circle cx="375.6" cy="104.9" r="3.7" fill="#6e8b1d"/><text x="435.5" y="16.6" font-size="11.3" font-weight="bold" text-anchor="start" textLength="38.6" lengthAdjust="spacingAndGlyphs">AuAg3</text><text x="332.9" y="100.8" font-size="11.3" font-weight="bold" text-anchor="start" textLength="15.0" lengthAdjust="spacingAndGlyphs">Ag</text><text x="560.9" y="100.6" font-size="11.3" font-weight="bold" text-anchor="start" textLength="31.7" lengthAdjust="spacingAndGlyphs">AuAg</text><text x="340.9" y="231.8" font-size="11.3" font-weight="bold" text-anchor="start" textLength="108.3" lengthAdjust="spacingAndGlyphs">Au (LFL @ 355 nm)</text><text x="504.0" y="231.8" font-size="11.3" font-weight="bold" text-anchor="start" textLength="108.6" lengthAdjust="spacingAndGlyphs">Au (LFL @ 532 nm)</text><text x="522.1" y="16.5" font-size="10" font-weight="bold">Normalized score (0-10)</text><line x1="520.4" y1="26" x2="544.7" y2="26" stroke="#6e8b1d" stroke-width="1.8"/><circle cx="532.8" cy="26" r="3.6" fill="#6e8b1d"/><text x="547" y="29.4" font-size="10" font-weight="bold">Solar weighted Absorption (A<tspan font-size="7.8" dy="2.8">m</tspan><tspan dy="-2.8">)</tspan></text><line x1="520.4" y1="41.3" x2="544.7" y2="41.3" stroke="#e8b00a" stroke-width="1.8"/><rect x="529.6" y="38.2" width="6.2" height="6.2" fill="#e8b00a"/><text x="547" y="44.6" font-size="10" font-weight="bold">Cost</text><line x1="520.4" y1="53.6" x2="544.7" y2="53.6" stroke="#fa8c1e" stroke-width="1.8"/><polygon points="532.7,49.5 536.4,56.1 529,56.1" fill="#fa8c1e"/><text x="547" y="57.0" font-size="10" font-weight="bold">Recovery</text>
</svg>
</body></html>
